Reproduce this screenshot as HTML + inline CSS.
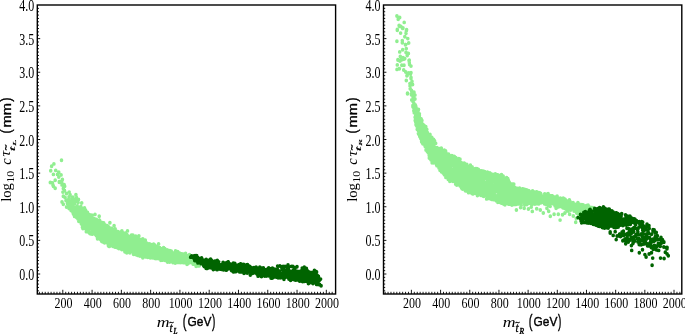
<!DOCTYPE html>
<html><head><meta charset="utf-8"><title>plot</title>
<style>
html,body{margin:0;padding:0;background:#fff}
svg{display:block;filter:blur(0.35px)}
text{fill:#000}
.tk text{font-family:"Liberation Serif",serif;font-size:12px}
.lg{stroke:#90ee90}
.dg{stroke:#006400}
.lg,.dg{fill:none;stroke-width:3.6;stroke-linecap:round}
</style></head><body>
<svg width="685" height="334" viewBox="0 0 685 334">
<rect width="685" height="334" fill="#fff"/>
<g class="lg" transform="scale(1,1.08333)"><path d="M61.5 147.97h0M53.9 151.29h0M51.6 153.51h0M50.7 157.66h0M55.7 157.29h0M58.8 158.95h0M53.4 160.98h0M57.5 160.98h0M61.1 161.45h0M58.8 163.48h0M62.4 165.69h0M55.2 166.43h0M59.3 167.63h0M50.3 168.46h0M52.5 168.92h0M62.0 169.29h0M64.2 170.58h0M53.0 170.95h0M59.3 168.18h0M62.0 166.71h0M53.4 171.97h0M55.2 173.82h0M62.0 170.68h0M64.7 171.97h0M63.3 174.00h0M62.9 177.32h0M69.2 177.32h0M63.3 181.11h0M65.1 182.31h0M66.5 178.62h0M70.1 179.82h0M75.9 179.82h0M72.8 181.94h0M76.3 181.94h0M75.0 184.43h0M62.0 186.46h0M63.3 188.58h0M68.3 184.43h0M71.0 185.26h0M81.7 187.29h0M78.1 186.92h0M67.4 187.75h0M71.0 188.58h0M74.5 187.75h0M66.5 191.08h0M70.1 191.45h0M73.6 191.08h0M77.2 190.15h0M80.8 190.62h0M84.4 192.74h0M64.5 175.85h0M66.0 185.08h0M73.5 186.28h0M78.5 184.15h0M69.0 181.85h0M95.0 197.91h0M99.2 199.57h0M109.9 205.66h0M114.1 208.34h0M121.9 213.14h0M127.5 213.14h0M138.9 217.75h0M158.6 225.14h0M145.3 221.72h0M67.5 186.00h0M69.5 187.20h0M72.0 183.69h0M73.0 189.05h0M68.8 189.69h0M76.0 185.54h0M100.2 214.99h0M133.3 220.94h0M151.1 231.28h0M114.3 223.40h0M146.5 225.58h0M191.5 240.19h0M128.4 220.62h0M123.2 219.31h0M144.6 228.09h0M113.5 219.05h0M167.7 240.48h0M92.8 210.49h0M90.3 209.55h0M156.0 229.93h0M110.5 212.42h0M145.2 226.75h0M128.1 225.04h0M167.6 235.32h0M180.6 234.32h0M142.4 225.62h0M175.5 234.67h0M181.2 239.58h0M126.9 226.64h0M115.7 220.18h0M95.0 204.13h0M110.2 215.67h0M83.9 197.86h0M83.8 195.01h0M169.2 235.89h0M101.7 219.99h0M165.5 239.78h0M83.2 200.67h0M190.7 236.84h0M167.0 232.16h0M116.5 213.60h0M139.0 230.18h0M160.8 235.87h0M82.0 200.26h0M184.1 240.87h0M99.1 212.19h0M82.8 200.23h0M101.7 219.48h0M104.0 218.89h0M84.6 196.76h0M196.1 242.26h0M97.8 216.09h0M160.1 237.21h0M156.7 230.95h0M142.6 234.68h0M121.4 228.56h0M139.5 232.79h0M141.0 221.20h0M126.4 225.20h0M92.7 215.49h0M139.7 234.87h0M128.1 224.62h0M128.2 232.03h0M178.2 233.67h0M125.7 229.70h0M140.3 227.05h0M113.2 215.12h0M115.7 222.48h0M191.9 239.37h0M115.9 220.52h0M93.2 207.93h0M160.0 232.86h0M116.3 225.54h0M100.7 216.72h0M135.9 225.20h0M104.8 207.35h0M84.6 208.20h0M148.6 232.71h0M100.5 214.58h0M124.9 225.68h0M84.5 198.13h0M89.5 206.11h0M90.8 199.61h0M188.7 239.61h0M192.6 239.21h0M147.5 227.12h0M110.9 218.71h0M84.0 200.67h0M106.7 215.12h0M94.6 205.24h0M107.9 225.08h0M150.6 231.21h0M95.6 205.44h0M102.6 221.97h0M181.0 238.16h0M142.1 231.86h0M144.5 234.63h0M138.6 230.84h0M115.8 220.29h0M178.8 240.54h0M135.8 231.49h0M126.8 226.89h0M84.9 206.17h0M113.7 222.77h0M100.4 212.76h0M183.8 240.96h0M124.4 223.63h0M127.2 221.52h0M170.1 239.52h0M117.6 214.31h0M155.4 234.61h0M97.0 203.38h0M103.3 207.24h0M109.3 225.49h0M158.7 232.09h0M112.6 224.02h0M135.5 223.57h0M75.4 197.64h0M158.2 235.15h0M181.4 239.79h0M79.3 193.07h0M192.3 242.65h0M83.1 198.88h0M149.0 230.63h0M123.2 226.81h0M117.0 218.21h0M110.7 223.64h0M196.2 239.38h0M181.5 238.76h0M84.3 200.91h0M119.3 216.00h0M87.9 202.26h0M141.1 232.64h0M151.1 230.02h0M91.1 210.75h0M106.8 223.62h0M110.0 221.83h0M77.5 197.08h0M105.8 220.71h0M164.9 237.60h0M101.7 208.38h0M144.7 225.03h0M92.1 210.43h0M134.2 232.29h0M117.4 222.53h0M111.2 212.96h0M120.5 225.71h0M101.1 221.08h0M77.8 201.90h0M184.7 241.97h0M180.7 236.77h0M198.7 240.63h0M155.4 230.81h0M133.2 230.98h0M120.8 220.57h0M127.4 219.25h0M177.2 237.11h0M112.0 224.55h0M154.6 234.25h0M101.5 218.48h0M142.7 224.44h0M109.1 217.36h0M136.7 228.69h0M150.9 227.79h0M117.3 227.74h0M112.2 223.91h0M127.3 221.45h0M95.6 211.73h0M84.3 206.60h0M115.5 224.79h0M153.8 227.51h0M172.4 235.43h0M115.3 213.69h0M166.7 238.07h0M133.8 234.35h0M80.6 196.24h0M112.7 212.91h0M131.1 219.96h0M127.0 227.67h0M92.3 204.17h0M108.3 212.02h0M129.9 227.68h0M152.0 230.36h0M80.5 200.47h0M150.3 238.00h0M119.6 225.56h0M128.2 229.94h0M91.8 201.54h0M180.0 235.80h0M153.4 237.67h0M172.1 237.91h0M168.0 236.22h0M85.2 199.58h0M117.3 215.99h0M193.0 242.26h0M185.1 237.49h0M87.8 202.40h0M116.4 224.54h0M127.1 229.72h0M166.0 237.17h0M153.4 231.63h0M151.3 236.58h0M101.9 215.92h0M112.0 226.52h0M136.8 228.24h0M163.7 230.19h0M123.9 218.97h0M101.6 210.51h0M169.9 232.27h0M121.6 226.22h0M87.8 206.76h0M115.9 218.12h0M120.7 223.29h0M183.6 242.44h0M186.1 235.99h0M177.8 234.31h0M95.4 215.70h0M186.1 239.28h0M111.7 222.32h0M163.5 234.85h0M103.3 219.19h0M124.6 230.07h0M110.5 215.96h0M173.0 233.49h0M136.9 223.83h0M197.6 243.63h0M160.8 235.97h0M170.4 238.49h0M113.5 213.07h0M97.2 208.75h0M123.0 221.75h0M104.2 210.34h0M101.9 219.05h0M136.3 231.34h0M186.2 235.97h0M127.8 231.83h0M105.7 216.21h0M105.0 217.37h0M106.6 220.96h0M106.9 222.69h0M166.3 231.26h0M85.7 204.81h0M172.4 240.64h0M115.1 215.00h0M128.7 228.78h0M142.5 229.16h0M82.7 194.12h0M97.2 217.60h0M150.4 234.32h0M76.5 197.86h0M107.9 218.54h0M94.3 202.01h0M90.7 208.30h0M94.3 213.99h0M78.0 200.40h0M154.1 230.85h0M102.2 215.16h0M81.7 196.37h0M152.8 231.29h0M162.5 235.84h0M75.3 197.20h0M161.3 231.73h0M133.9 225.24h0M161.5 230.98h0M85.4 203.87h0M142.6 232.43h0M168.8 240.39h0M159.4 236.70h0M90.8 201.38h0M154.9 229.42h0M194.9 238.12h0M142.2 228.02h0M81.1 200.97h0M157.4 229.17h0M154.4 231.46h0M76.1 195.16h0M122.6 225.48h0M152.6 229.23h0M192.3 241.46h0M158.7 233.38h0M189.2 239.80h0M84.5 205.32h0M180.3 239.49h0M156.9 231.62h0M92.3 210.00h0M118.1 216.09h0M158.6 236.71h0M86.8 203.56h0M181.3 239.91h0M181.7 241.04h0M117.0 215.14h0M100.9 218.86h0M120.6 221.47h0M128.9 228.98h0M172.0 234.80h0M141.7 227.27h0M188.1 238.94h0M167.0 239.47h0M113.6 217.44h0M96.0 214.03h0M150.4 235.13h0M147.8 227.01h0M125.3 227.37h0M184.4 238.73h0M154.8 228.67h0M135.2 222.74h0M182.5 237.49h0M194.6 239.11h0M167.6 230.88h0M104.5 218.72h0M127.3 221.49h0M116.7 213.77h0M78.9 193.24h0M149.4 235.06h0M120.9 218.46h0M146.6 233.46h0M130.0 224.25h0M109.1 214.67h0M125.7 220.66h0M129.5 229.37h0M110.5 210.87h0M145.4 236.95h0M194.4 240.54h0M111.8 222.71h0M75.9 196.66h0M82.7 207.10h0M76.6 196.65h0M153.3 227.49h0M160.5 230.09h0M101.0 214.23h0M139.3 229.54h0M129.2 223.80h0M115.7 216.31h0M94.8 214.24h0M92.7 204.07h0M131.3 227.92h0M131.5 230.41h0M90.6 208.25h0M178.0 242.06h0M147.2 235.31h0M79.6 191.77h0M125.5 229.70h0M117.4 226.83h0M125.5 225.21h0M79.1 202.90h0M140.8 224.67h0M143.5 227.72h0M189.2 242.53h0M93.5 212.53h0M108.7 211.45h0M140.5 225.35h0M73.3 195.33h0M119.6 220.01h0M157.4 231.06h0M93.1 211.06h0M180.9 239.58h0M109.7 222.63h0M142.0 230.31h0M137.0 225.06h0M98.4 211.87h0M150.9 230.36h0M89.4 207.26h0M118.1 218.81h0M125.2 216.39h0M122.6 229.08h0M125.7 217.69h0M136.2 227.50h0M102.6 223.21h0M129.9 225.15h0M165.9 236.03h0M117.2 228.53h0M112.7 224.11h0M141.9 230.65h0M147.1 224.65h0M122.6 227.45h0M98.7 204.68h0M110.2 210.65h0M102.9 208.70h0M93.8 203.92h0M133.0 225.04h0M82.0 205.37h0M185.4 235.73h0M194.2 238.84h0M139.9 221.40h0M152.0 232.36h0M87.9 200.46h0M134.0 222.78h0M106.4 213.76h0M186.6 240.97h0M99.3 220.20h0M108.9 215.18h0M130.7 230.57h0M162.9 232.88h0M110.5 226.33h0M134.9 225.12h0M172.2 234.10h0M69.9 192.66h0M134.9 218.72h0M137.8 229.37h0M193.2 243.81h0M75.3 195.59h0M165.4 234.87h0M182.9 241.79h0M122.1 217.34h0M133.8 232.67h0M186.7 237.00h0M118.6 229.21h0M89.6 209.73h0M140.1 224.06h0M140.2 223.09h0M145.5 236.25h0M137.3 220.19h0M111.9 224.52h0M194.7 240.78h0M101.4 218.55h0M87.8 212.91h0M83.1 208.54h0M119.7 219.85h0M110.4 217.52h0M122.2 216.29h0M157.5 228.81h0M138.2 223.74h0M167.9 236.78h0M140.5 227.61h0M173.6 235.22h0M172.7 237.14h0M143.0 233.77h0M158.6 236.21h0M106.3 213.56h0M83.8 208.72h0M84.2 204.68h0M112.3 219.46h0M124.8 224.97h0M105.1 223.53h0M160.3 235.17h0M133.1 232.70h0M82.0 206.44h0M135.0 222.91h0M81.0 194.11h0M151.1 226.88h0M78.4 194.44h0M107.9 215.59h0M107.7 208.97h0M130.8 228.04h0M126.4 231.94h0M169.0 240.64h0M131.9 223.73h0M124.3 229.76h0M133.2 228.81h0M186.7 242.22h0M74.4 192.60h0M105.2 210.05h0M123.3 227.45h0M128.7 218.22h0M107.6 213.96h0M95.7 209.45h0M170.4 237.09h0M152.3 235.93h0M94.3 210.76h0M114.3 226.49h0M90.6 205.59h0M88.3 201.44h0M137.9 229.54h0M143.7 234.93h0M107.9 218.92h0M73.7 194.02h0M111.9 212.70h0M101.6 210.17h0M88.1 208.94h0M153.2 229.35h0M162.7 240.00h0M92.2 205.78h0M87.0 209.43h0M99.5 218.58h0M138.0 222.71h0M97.4 203.74h0M81.1 202.65h0M140.0 236.38h0M147.3 231.88h0M127.3 223.94h0M139.3 224.79h0M81.6 199.36h0M126.8 228.32h0M186.5 241.85h0M97.7 206.89h0M125.8 218.49h0M94.6 206.79h0M84.7 207.16h0M127.0 218.66h0M138.7 233.92h0M137.6 224.85h0M156.9 228.41h0M108.9 222.00h0M158.0 230.17h0M184.2 235.03h0M110.1 221.79h0M130.5 220.66h0M114.5 216.64h0M138.4 228.63h0M177.8 241.87h0M114.2 212.98h0M83.7 202.10h0M97.6 205.52h0M115.7 227.99h0M126.2 227.55h0M126.9 225.90h0M111.0 217.24h0M155.6 236.61h0M103.7 212.79h0M181.5 237.31h0M123.5 222.19h0M100.7 213.73h0M187.8 240.53h0M179.2 235.53h0M152.0 235.70h0M175.6 236.98h0M82.8 204.57h0M171.0 232.75h0M69.1 192.46h0M145.6 228.12h0M189.1 242.33h0M98.0 209.00h0M183.7 234.62h0M92.7 213.76h0M116.7 220.41h0M107.0 208.40h0M90.9 205.08h0M85.6 207.86h0M139.5 226.02h0M88.1 204.98h0M180.3 239.08h0M104.6 219.71h0M120.9 227.67h0M108.1 209.01h0M137.0 228.20h0M113.2 222.80h0M160.9 239.14h0M164.7 235.90h0M169.8 237.61h0M130.2 219.95h0M112.1 217.12h0M194.1 238.86h0M178.7 234.33h0M160.2 231.49h0M154.9 236.84h0M170.5 238.88h0M103.1 210.07h0M169.4 234.95h0M93.9 214.60h0M178.7 238.41h0M120.4 221.87h0M135.4 224.30h0M92.3 211.49h0M197.1 238.77h0M101.5 214.40h0M187.2 236.02h0M118.2 223.83h0M123.1 219.43h0M135.6 224.92h0M75.5 193.81h0M78.4 193.19h0M152.2 230.44h0M165.2 233.07h0M171.1 239.44h0M100.1 208.58h0M97.6 214.79h0M152.2 230.57h0M115.4 225.52h0M169.0 237.70h0M124.8 226.38h0M78.7 194.51h0M77.0 200.01h0M106.6 215.16h0M155.2 228.77h0M123.6 228.93h0M111.7 210.91h0M94.3 204.92h0M159.7 228.68h0M113.3 227.35h0M84.0 194.31h0M120.5 219.10h0M87.7 199.74h0M151.2 232.99h0M180.1 240.74h0M104.6 208.91h0M178.0 239.76h0M118.1 222.59h0M195.7 243.93h0M96.3 217.47h0M138.3 231.05h0M116.6 213.58h0M142.3 231.03h0M149.0 228.36h0M183.5 238.41h0M137.0 226.39h0M151.6 237.79h0M122.7 217.23h0M137.5 224.83h0M175.7 241.25h0M152.9 237.87h0M110.9 218.72h0M90.1 206.77h0M182.8 236.16h0M164.2 231.14h0M144.7 235.77h0M110.5 225.73h0M100.7 209.00h0M94.0 213.58h0M128.1 227.76h0M87.8 208.09h0M179.5 235.60h0M93.2 202.83h0M195.9 242.84h0M182.6 240.48h0M148.5 228.05h0M82.2 203.29h0M173.7 235.09h0M150.4 228.64h0M169.0 232.13h0M188.4 240.18h0M165.6 239.26h0M133.5 234.59h0M99.9 207.05h0M122.0 217.78h0M136.0 230.89h0M97.6 208.80h0M142.9 229.21h0M85.0 198.19h0M136.1 235.03h0M98.7 218.84h0M86.6 197.97h0M192.3 238.91h0M198.0 242.20h0M128.4 229.10h0M81.7 198.97h0M112.7 219.31h0M180.9 237.15h0M191.2 242.20h0M129.9 233.24h0M110.1 217.27h0M152.0 235.49h0M77.7 197.60h0M152.0 230.75h0M76.3 192.23h0M73.4 195.90h0M141.9 224.23h0M165.1 235.68h0M82.4 206.02h0M88.3 198.37h0M104.8 215.54h0M104.5 217.44h0M94.0 206.07h0M96.8 212.92h0M115.3 227.70h0M170.8 237.45h0M116.1 226.08h0M165.3 240.35h0M115.9 218.15h0M99.2 204.59h0M116.9 216.93h0M83.5 193.77h0M114.8 212.66h0M141.4 234.80h0M132.4 227.19h0M195.8 243.31h0M172.2 238.93h0M74.5 197.43h0M177.2 240.47h0M135.4 227.58h0M78.1 199.05h0M186.7 240.90h0M144.7 225.17h0M145.8 226.77h0M117.2 218.83h0M114.9 224.99h0M167.0 234.17h0M154.2 228.33h0M119.8 225.31h0M147.0 232.40h0M110.7 214.90h0M155.8 230.83h0M99.3 217.92h0M137.7 224.08h0M167.6 233.28h0M138.0 226.61h0M133.1 225.20h0M160.5 231.01h0M113.7 223.38h0M141.1 229.98h0M118.1 217.13h0M198.6 239.51h0M81.3 200.78h0M137.3 230.14h0M95.4 209.03h0M100.4 211.87h0M102.6 215.28h0M158.7 228.99h0M73.3 193.31h0M75.8 199.53h0M89.0 210.31h0M121.5 227.91h0M145.0 236.86h0M133.7 218.71h0M137.3 227.29h0M186.1 242.51h0M130.5 231.88h0M142.0 221.94h0M170.5 232.30h0M171.5 236.32h0M106.0 217.26h0M178.7 239.12h0M167.1 230.69h0M143.2 226.68h0M137.2 225.07h0M155.8 233.03h0M112.8 216.47h0M118.0 221.63h0M106.9 217.35h0M180.8 236.78h0M155.8 230.79h0M133.9 218.97h0M122.0 216.17h0M94.5 205.61h0M152.7 227.60h0M186.7 242.19h0M147.8 230.00h0M95.7 211.30h0M77.5 197.12h0M147.4 235.40h0M109.6 223.92h0M152.3 230.11h0M112.1 224.13h0M87.9 200.18h0M191.9 240.52h0M94.4 205.31h0M141.3 233.01h0M133.8 225.76h0M149.2 233.51h0M120.5 224.45h0M135.1 226.21h0M96.3 212.21h0M141.9 223.16h0M98.1 217.73h0M113.8 224.36h0M158.4 230.29h0M88.9 207.31h0M141.4 228.07h0M139.9 226.48h0M97.5 214.61h0M120.7 221.49h0M135.7 234.37h0M110.3 226.22h0M114.5 218.39h0M135.0 230.92h0M130.9 225.46h0M117.4 226.42h0M103.2 208.83h0M128.9 221.20h0M156.7 230.47h0M188.4 237.37h0M135.3 221.22h0M103.4 211.83h0M158.0 230.75h0M161.0 229.60h0M133.0 230.71h0M194.7 240.01h0M194.8 241.21h0M90.6 210.60h0M187.9 241.70h0M156.8 237.27h0M141.3 231.84h0M139.5 221.71h0M152.2 227.31h0M140.1 231.22h0M151.0 228.19h0M191.6 242.16h0M131.8 223.39h0M120.1 214.59h0M129.1 226.08h0M124.8 227.30h0M101.9 222.75h0M154.3 233.19h0M152.4 233.50h0M155.3 228.55h0M104.3 217.35h0M75.3 193.18h0M191.3 237.25h0M149.0 229.82h0M125.2 220.89h0M136.8 229.44h0M150.9 229.54h0M96.1 214.54h0M149.3 235.39h0M175.0 233.25h0M135.0 220.40h0M147.6 232.10h0M188.3 241.40h0M175.3 236.31h0M149.5 232.71h0M181.4 234.55h0M152.7 231.53h0M81.5 199.34h0M166.3 233.38h0M152.7 236.84h0M107.5 219.69h0M164.0 239.44h0M141.1 221.46h0M96.0 208.03h0M110.0 217.12h0M88.5 202.66h0M130.8 225.18h0M112.4 224.36h0M117.8 224.36h0M100.7 221.13h0M111.1 222.36h0M149.3 229.28h0M158.4 238.59h0M145.1 227.15h0M83.0 201.86h0M111.0 220.61h0M82.0 195.62h0M106.5 223.34h0M96.4 210.77h0M135.0 228.71h0M153.0 235.19h0M137.9 222.38h0M95.7 214.12h0M88.8 211.92h0M80.2 196.04h0M133.3 225.19h0M108.1 222.33h0M125.1 227.14h0M122.3 221.85h0M76.0 194.03h0M79.4 196.36h0M95.1 213.07h0M153.6 231.83h0M99.1 210.64h0M98.3 204.05h0M98.5 206.55h0M97.2 208.65h0M198.7 239.29h0M99.5 206.51h0M111.4 215.71h0M107.5 218.43h0M196.0 243.85h0M174.8 239.72h0M146.4 227.83h0M106.7 218.69h0M101.8 206.04h0M75.3 193.31h0M81.3 193.60h0M171.6 233.25h0M124.4 227.97h0M140.1 221.34h0M102.0 219.06h0M94.3 201.96h0M196.8 242.34h0M135.9 225.54h0M165.5 231.91h0M133.7 222.03h0M89.9 211.00h0M122.0 228.14h0M172.2 234.15h0M136.8 229.51h0M76.1 198.65h0M132.2 225.03h0M198.2 240.01h0M152.7 237.58h0M75.1 196.41h0M151.4 237.09h0M101.8 207.77h0M111.2 218.56h0M168.4 232.74h0M86.2 207.21h0M147.7 237.53h0M122.2 223.88h0M136.8 233.52h0M134.7 219.08h0M142.3 229.67h0M119.2 221.35h0M138.7 231.34h0M85.5 205.92h0M102.5 220.19h0M145.1 223.29h0M87.8 206.31h0M179.3 233.47h0M144.9 224.22h0M102.3 207.19h0M144.0 223.50h0M117.4 214.16h0M103.7 220.21h0M106.9 220.01h0M91.5 200.04h0M100.9 211.65h0M158.6 231.76h0M173.1 238.40h0M107.9 222.67h0M132.8 228.97h0M182.0 234.48h0M119.5 217.01h0M142.6 235.04h0M92.2 213.86h0M114.1 216.61h0M83.8 196.89h0M136.9 219.30h0M116.5 216.62h0M180.1 238.96h0M164.8 231.11h0M177.4 238.81h0M120.5 229.15h0M101.5 214.56h0M170.2 234.39h0M135.9 227.15h0M192.5 239.84h0M133.3 226.86h0M144.3 228.98h0M144.7 224.21h0M152.2 233.89h0M111.6 214.07h0M81.3 206.43h0M196.1 244.40h0M146.4 224.49h0M165.0 231.12h0M186.3 236.31h0M111.1 215.84h0M78.8 204.18h0M112.4 221.25h0M153.7 232.51h0M92.0 199.96h0M121.8 230.28h0M130.1 220.92h0M121.8 218.26h0M102.6 209.09h0M160.6 237.80h0M119.6 228.40h0M116.7 226.30h0M114.3 214.41h0M150.2 228.19h0M87.3 198.26h0M89.0 201.16h0M143.5 231.20h0M77.1 198.32h0M96.4 202.57h0M148.9 229.13h0M158.0 232.31h0M83.1 197.50h0M87.9 198.67h0M100.1 217.21h0M149.5 228.69h0M128.1 232.13h0M118.3 219.47h0M142.5 228.39h0M171.3 231.90h0M177.5 233.16h0M176.9 235.51h0M120.8 227.52h0M115.0 225.03h0M152.0 226.61h0M173.8 235.05h0M122.5 227.35h0M109.1 216.81h0M178.6 240.32h0M186.9 238.76h0M124.4 218.19h0M105.2 221.68h0M107.6 211.77h0M118.2 220.61h0M156.4 237.16h0M85.9 204.29h0M107.7 218.75h0M195.9 243.29h0M107.4 209.08h0M126.7 227.60h0M188.5 239.17h0M145.5 233.60h0M156.0 238.73h0M78.6 191.97h0M83.2 203.11h0M180.2 242.29h0M77.0 199.36h0M174.8 239.92h0M154.9 228.68h0M117.9 213.87h0M126.0 228.69h0M150.4 234.83h0M134.3 221.91h0M121.2 221.58h0M167.8 239.58h0M138.0 220.05h0M143.5 227.92h0M91.1 204.62h0M98.1 219.21h0M110.9 217.09h0M161.9 235.74h0M116.5 218.50h0M98.8 216.25h0M139.2 229.48h0M84.3 204.86h0M132.9 232.08h0M132.2 231.39h0M160.1 233.82h0M115.2 228.15h0M84.6 199.44h0M104.0 209.99h0M104.0 213.41h0M100.7 206.12h0M138.9 225.88h0M126.9 216.68h0M85.6 194.12h0M110.5 222.20h0M143.6 231.15h0M190.3 241.99h0M104.8 221.76h0M101.8 213.73h0M153.3 232.27h0M150.6 226.03h0M186.8 237.58h0M167.1 233.12h0M131.3 223.04h0M114.3 219.89h0M140.4 230.89h0M176.2 242.30h0M103.7 205.78h0M176.4 236.42h0M100.2 217.76h0M161.1 235.46h0M130.7 220.92h0M111.5 219.47h0M90.7 204.82h0M80.6 204.62h0M147.4 237.23h0M94.4 204.86h0M108.4 226.92h0M166.1 233.50h0M166.5 238.45h0M100.3 212.36h0M175.2 242.80h0M117.9 226.65h0M157.8 236.06h0M174.7 235.80h0M191.6 240.29h0M164.8 234.17h0M142.8 220.52h0M143.4 232.71h0M185.1 241.27h0M196.1 245.88h0M109.9 222.01h0M187.5 242.20h0M87.5 196.10h0M158.4 229.68h0M193.9 242.71h0M118.3 219.58h0M112.9 227.31h0M76.4 196.13h0M142.1 221.97h0M141.9 233.29h0M160.5 237.97h0M140.5 221.84h0M73.0 196.12h0M141.5 232.61h0M177.8 236.42h0M134.2 221.72h0M188.9 240.17h0M73.4 197.46h0M111.2 212.43h0M168.4 238.80h0M196.6 245.34h0M135.1 227.71h0M187.5 243.46h0M94.2 209.00h0M154.2 229.64h0M151.2 225.92h0M152.9 234.16h0M132.2 221.23h0M74.7 191.51h0M90.4 211.27h0M186.2 237.47h0M90.0 198.31h0M115.5 226.16h0M105.5 217.66h0M102.4 213.19h0M174.3 238.36h0M177.4 232.74h0M82.4 209.76h0M83.9 202.54h0M173.9 233.46h0M98.2 206.97h0M159.2 230.70h0M92.2 211.73h0M147.6 237.13h0M122.6 220.40h0M154.3 235.01h0M190.7 238.86h0M161.7 235.64h0M117.9 217.87h0M143.6 230.21h0M131.5 226.54h0M96.8 207.47h0M127.4 229.34h0M95.1 205.03h0M195.7 241.86h0M104.6 224.10h0M146.0 230.99h0M173.9 238.50h0M85.4 210.93h0M119.8 229.28h0M148.1 236.08h0M106.0 220.12h0M135.8 234.96h0M165.3 233.58h0M182.2 241.75h0M101.5 222.55h0M108.1 210.16h0M132.9 217.17h0M78.5 197.24h0M97.5 214.29h0M140.0 232.14h0M163.6 228.71h0M142.8 238.01h0M106.5 216.64h0M166.9 233.21h0M121.4 216.74h0M133.2 231.22h0M110.6 216.43h0M87.6 204.18h0M172.9 242.40h0M108.7 210.21h0M92.3 216.13h0M137.8 235.76h0M146.2 234.07h0M75.8 198.36h0M99.0 207.25h0M162.0 231.59h0M97.7 215.07h0M182.2 240.16h0M79.7 203.10h0M95.4 216.18h0M103.4 211.63h0M103.4 215.27h0M197.5 239.16h0M122.5 219.75h0M192.2 241.89h0M156.7 227.88h0M169.8 236.06h0M181.6 242.11h0M191.7 239.24h0M185.6 234.03h0M153.4 227.66h0M168.9 240.09h0M112.1 219.99h0M91.5 211.32h0M127.3 222.61h0M101.6 221.96h0M125.2 227.21h0M129.0 230.70h0M103.9 208.12h0M81.4 206.72h0M129.8 221.39h0M80.2 202.06h0M83.2 206.41h0M71.1 194.35h0M123.2 222.40h0M122.9 214.82h0M111.1 213.47h0M86.6 202.52h0M92.7 213.91h0M184.2 239.06h0M80.8 194.53h0M181.0 236.44h0M119.2 220.41h0M139.4 222.36h0M82.9 210.97h0M188.1 241.84h0M117.7 223.02h0M154.0 229.16h0M81.4 191.98h0M129.4 231.47h0M89.4 211.39h0M161.5 237.41h0M164.0 234.36h0M146.3 228.49h0M190.0 237.98h0M84.5 191.92h0M173.4 237.01h0M86.5 212.03h0M163.4 234.19h0M105.0 215.08h0M199.3 245.42h0M175.5 231.64h0M104.9 213.46h0M75.8 197.16h0M92.6 210.34h0M177.7 237.46h0M148.6 226.60h0M155.1 238.52h0M110.1 225.21h0M132.8 225.72h0M88.0 213.23h0M166.0 232.78h0M173.6 241.93h0M77.0 194.60h0M124.9 232.44h0M93.2 214.71h0M170.5 238.32h0M140.9 225.08h0M153.6 225.50h0M167.5 241.82h0M88.7 204.48h0M173.6 241.69h0M160.0 233.72h0M100.6 205.31h0M197.6 239.92h0M154.7 234.92h0M170.9 240.04h0M129.5 228.78h0M178.6 240.88h0M118.3 214.82h0M73.7 193.89h0M90.0 203.05h0M165.8 238.53h0M109.5 224.41h0M86.9 197.95h0M114.4 219.93h0M115.6 223.42h0M164.8 229.59h0M71.4 191.41h0M148.6 233.35h0M131.7 230.15h0M111.8 212.42h0M91.8 198.67h0M83.0 196.19h0M179.3 236.19h0M143.9 225.52h0M187.0 243.96h0M133.0 231.62h0M118.6 227.74h0M113.0 222.99h0M133.7 234.74h0M121.6 215.75h0M81.1 194.27h0M80.4 196.81h0M154.2 230.42h0M149.5 225.22h0M164.1 235.30h0M90.6 209.05h0M153.3 235.29h0M177.7 232.26h0M154.6 229.28h0M132.5 229.17h0M171.8 240.56h0M179.1 236.78h0M134.8 220.85h0M112.1 212.65h0M125.9 224.09h0M152.4 234.02h0M152.5 230.52h0M150.0 237.39h0M160.9 233.64h0M92.7 205.77h0M189.5 235.08h0M172.3 237.71h0M105.2 211.67h0M152.3 229.65h0M86.0 207.53h0M84.1 199.30h0M197.0 242.26h0M76.1 195.17h0M103.6 206.26h0M99.8 206.60h0M98.9 207.40h0M118.9 218.00h0M192.7 242.18h0M93.2 215.51h0M147.8 228.58h0M100.8 214.82h0M152.9 234.48h0M174.3 240.56h0M88.3 197.71h0M89.9 215.54h0M112.2 211.79h0M109.3 227.43h0M76.7 200.87h0M98.9 214.46h0M99.3 216.78h0M112.6 226.13h0M178.8 237.40h0M84.5 201.17h0M106.3 216.94h0M115.2 211.27h0M143.8 234.47h0M167.8 239.18h0M113.7 215.68h0M106.1 219.55h0M169.8 231.36h0M94.6 205.21h0M91.2 209.45h0M156.2 230.84h0M129.6 226.30h0M165.9 235.43h0M113.6 214.55h0M111.6 221.66h0M83.0 194.04h0M133.8 226.61h0M136.9 228.24h0M157.1 227.32h0M74.9 192.60h0M97.4 219.27h0M98.3 218.03h0M137.2 234.51h0M123.6 226.92h0M125.5 218.83h0M86.3 213.83h0M88.1 212.70h0M116.2 219.88h0M85.4 205.52h0M97.3 207.93h0M177.7 242.23h0M100.6 216.84h0M95.7 210.65h0M150.4 230.92h0M98.2 205.88h0M93.8 204.11h0M131.4 217.04h0M80.0 194.11h0M99.9 203.98h0M118.9 229.40h0M160.9 240.25h0M102.3 205.54h0M133.2 231.34h0M148.9 233.09h0M143.6 234.42h0M195.0 239.45h0M96.8 213.80h0M181.2 237.67h0M138.1 230.38h0M80.9 191.50h0M156.3 229.27h0M90.7 215.77h0M177.5 240.76h0M74.6 199.74h0M132.5 229.05h0M110.4 225.29h0M135.9 224.46h0M90.1 208.47h0M106.3 212.15h0M89.0 214.38h0M128.7 219.97h0M74.4 199.26h0M112.4 219.99h0M108.6 226.57h0M142.1 234.29h0M145.5 235.29h0M112.2 223.57h0M171.7 236.47h0M76.3 195.95h0M83.1 200.31h0M138.6 228.47h0M74.1 196.41h0M146.7 229.32h0M187.3 238.91h0M135.2 228.57h0M74.6 194.38h0M167.4 240.55h0M173.1 241.23h0M180.4 238.34h0M167.3 241.40h0M114.6 211.93h0M151.1 232.08h0M84.0 204.20h0M86.7 198.56h0M140.0 225.84h0M108.9 227.09h0M135.7 217.99h0M123.3 230.20h0M135.4 225.92h0M81.2 200.81h0M108.6 223.76h0M157.1 235.47h0M97.5 220.43h0M99.3 218.80h0M126.8 233.28h0M128.2 226.52h0M178.2 236.57h0M125.4 215.31h0M72.6 191.60h0M86.5 203.47h0M154.5 226.09h0M154.7 229.46h0M99.4 203.28h0M158.1 230.65h0M91.9 208.90h0M160.9 235.74h0M107.9 219.49h0M173.0 233.43h0M195.7 243.35h0M138.6 218.63h0M169.6 241.91h0M160.1 233.45h0M147.1 227.64h0M163.6 231.29h0M185.1 237.41h0M143.1 236.75h0M104.1 214.05h0M192.3 240.82h0M113.0 225.95h0"/></g>
<g class="dg" transform="scale(1,1.08333)"><path d="M219.9 248.39h0M314.2 255.26h0M274.3 255.11h0M209.1 242.57h0M203.4 244.26h0M294.8 254.15h0M271.6 254.95h0M209.7 246.87h0M203.7 245.25h0M292.6 256.77h0M220.4 248.35h0M217.4 244.36h0M249.0 247.15h0M318.9 262.40h0M274.7 248.44h0M207.8 246.44h0M294.6 258.23h0M209.5 242.39h0M230.0 246.29h0M307.1 251.36h0M282.8 252.30h0M201.6 241.84h0M246.0 247.64h0M259.3 253.22h0M306.5 254.95h0M270.6 254.17h0M287.8 250.41h0M256.5 252.25h0M286.0 255.67h0M286.1 253.06h0M302.4 250.76h0M290.7 254.17h0M286.9 249.07h0M262.1 247.64h0M240.9 247.05h0M310.5 259.90h0M299.7 251.92h0M296.1 253.54h0M248.1 249.58h0M193.9 238.20h0M278.0 249.94h0M264.5 252.37h0M299.0 258.18h0M256.5 251.98h0M269.0 248.98h0M314.8 258.20h0M301.1 257.05h0M293.4 256.96h0M275.6 253.96h0M243.7 249.55h0M231.6 248.71h0M287.9 252.75h0M305.8 251.98h0M301.5 251.27h0M284.4 255.17h0M315.0 260.57h0M246.0 250.57h0M267.0 253.92h0M317.6 254.63h0M270.1 252.05h0M226.7 245.67h0M239.4 250.83h0M194.0 236.24h0M313.6 260.42h0M313.6 256.35h0M295.1 255.58h0M192.1 236.63h0M245.4 246.00h0M239.0 245.57h0M236.4 245.11h0M282.9 255.84h0M204.8 245.69h0M230.1 246.49h0M227.5 246.84h0M237.9 249.18h0M223.5 246.23h0M219.6 247.04h0M206.8 241.85h0M295.2 255.33h0M279.1 255.99h0M251.6 250.27h0M192.7 236.62h0M222.4 247.90h0M269.1 250.71h0M283.5 249.92h0M299.3 254.15h0M297.9 257.80h0M313.0 259.03h0M315.4 255.81h0M239.0 244.39h0M204.1 242.70h0M205.9 246.55h0M292.9 251.42h0M215.9 241.35h0M311.7 260.86h0M258.2 250.71h0M225.8 246.83h0M307.7 252.73h0M271.2 248.14h0M290.8 253.84h0M317.2 261.27h0M246.0 245.67h0M260.0 251.72h0M300.0 259.48h0M201.2 241.29h0M295.3 253.99h0M291.5 256.17h0M254.7 248.21h0M297.4 255.68h0M293.3 253.35h0M265.1 252.56h0M232.0 249.96h0M316.9 254.77h0M203.5 243.13h0M260.8 250.31h0M260.5 254.17h0M266.8 254.53h0M317.7 256.51h0M308.6 252.71h0M297.6 250.82h0M300.1 255.43h0M228.4 246.42h0M205.5 246.02h0M318.5 255.14h0M194.0 238.24h0M283.4 249.94h0M266.1 254.84h0M269.3 249.69h0M240.9 250.72h0M278.4 254.09h0M254.0 249.97h0M213.4 247.00h0M233.2 250.12h0M273.3 255.09h0M277.8 254.91h0M239.9 248.97h0M205.2 241.08h0M275.0 255.58h0M241.2 250.07h0M236.8 249.35h0M300.0 256.47h0M314.2 254.80h0M305.6 255.64h0M284.9 254.02h0M295.1 252.48h0M233.9 244.59h0M206.2 239.49h0M286.1 250.25h0M301.2 253.43h0M207.4 242.62h0M203.7 240.74h0M231.7 246.96h0M235.3 244.60h0M294.0 257.54h0M209.1 245.60h0M296.0 258.42h0M292.6 252.89h0M294.9 255.85h0M277.7 252.65h0M292.3 254.13h0M297.6 252.20h0M255.2 251.55h0M264.2 251.01h0M237.7 245.68h0M301.3 258.09h0M262.7 247.90h0M251.5 252.50h0M244.2 245.63h0M308.1 258.67h0M216.3 243.22h0M219.3 244.36h0M198.6 241.53h0M206.5 241.47h0M307.4 255.99h0M222.9 244.21h0M258.6 247.49h0M227.5 244.01h0M217.5 242.76h0M211.4 240.25h0M272.9 253.66h0M252.6 252.18h0M238.1 245.01h0M263.4 247.40h0M213.2 243.73h0M287.2 251.84h0M283.1 255.95h0M281.2 253.77h0M283.1 249.51h0M197.7 239.53h0M253.0 248.85h0M211.2 242.81h0M261.5 252.87h0M266.5 249.68h0M271.8 255.13h0M240.6 249.55h0M298.8 252.72h0M271.3 249.48h0M287.4 254.39h0M299.8 250.58h0M297.8 252.32h0M196.6 236.77h0M207.0 242.61h0M293.0 249.93h0M246.6 247.29h0M221.3 244.41h0M257.1 252.87h0M237.0 247.98h0M206.2 244.81h0M291.4 256.97h0M255.7 249.75h0M254.8 251.08h0M291.0 251.84h0M226.2 247.82h0M267.7 249.36h0M317.0 254.07h0M310.2 256.30h0M286.7 250.92h0M212.3 241.16h0M297.7 257.34h0M235.3 245.21h0M236.0 245.94h0M296.1 254.69h0M249.7 245.94h0M312.6 254.49h0M219.2 246.08h0M296.9 258.30h0M241.8 249.65h0M295.4 255.26h0M219.3 247.95h0M291.3 252.65h0M301.1 250.04h0M271.7 250.96h0M217.5 245.41h0M233.3 246.53h0M305.3 255.79h0M208.8 243.01h0M218.3 246.47h0M208.0 243.55h0M298.8 255.94h0M289.8 254.59h0M277.0 248.57h0M269.7 253.69h0M319.4 257.16h0M241.0 250.99h0M262.6 253.74h0M299.4 251.60h0M317.8 255.49h0M277.7 254.64h0M264.1 252.22h0M251.0 246.94h0M245.9 249.66h0M284.1 255.10h0M236.8 247.58h0M278.7 250.18h0M243.3 250.19h0M253.1 250.23h0M316.5 254.14h0M206.5 244.68h0M196.2 240.69h0M279.7 253.17h0M217.4 243.59h0M264.3 252.05h0M289.1 255.62h0M222.7 245.44h0M314.4 253.45h0M225.8 245.49h0M210.3 243.04h0M315.5 259.01h0M195.7 238.34h0M252.6 249.57h0M196.3 237.68h0M257.4 251.61h0M256.7 251.34h0M210.8 246.59h0M295.6 258.46h0M305.5 254.47h0M305.2 255.24h0M306.7 250.49h0M298.8 252.94h0M201.6 238.03h0M233.4 249.83h0M273.8 251.30h0M217.1 246.71h0M223.8 248.86h0M272.8 249.86h0M243.7 250.60h0M215.6 241.79h0M282.9 248.66h0M238.4 244.70h0M226.1 242.79h0M227.6 248.25h0M231.4 249.50h0M279.3 250.91h0M204.3 240.44h0M199.5 239.53h0M260.6 251.25h0M270.9 255.69h0M268.0 252.08h0M308.1 259.58h0M259.9 249.40h0M301.9 251.51h0M297.7 252.02h0M258.1 249.15h0M313.1 260.02h0M247.0 249.05h0M299.1 255.10h0M266.6 249.48h0M276.5 252.03h0M255.2 250.30h0M199.9 241.20h0M311.1 256.75h0M302.6 255.93h0M283.0 256.58h0M264.9 253.49h0M314.4 256.86h0M211.4 241.22h0M252.2 250.09h0M278.1 256.44h0M306.1 259.46h0M201.1 243.37h0M292.1 257.23h0M308.4 258.88h0M231.4 244.10h0M319.2 258.82h0M312.6 253.89h0M308.2 251.03h0M313.0 255.01h0M317.0 257.94h0M312.8 260.04h0M227.1 242.96h0M233.7 244.99h0M312.7 252.38h0M304.4 259.60h0M316.3 258.83h0M275.0 248.69h0M264.3 253.53h0M246.5 246.72h0M228.1 246.97h0M264.9 248.85h0M295.0 257.87h0M211.3 240.70h0M251.2 248.03h0M272.0 255.20h0M299.6 259.48h0M216.3 246.24h0M253.4 248.35h0M293.2 249.47h0M277.3 254.46h0M245.0 246.20h0M247.2 251.98h0M300.4 257.93h0M268.0 252.46h0M311.6 258.50h0M192.7 237.36h0M222.4 244.13h0M217.9 244.91h0M234.5 243.77h0M238.7 250.31h0M199.4 240.31h0M214.7 244.92h0M246.6 251.49h0M286.1 252.85h0M244.8 248.24h0M240.0 248.17h0M258.0 250.17h0M291.8 257.91h0M257.0 249.42h0M224.6 245.24h0M297.1 258.38h0M262.1 253.89h0M232.0 246.73h0M273.8 255.64h0M284.6 253.47h0M314.4 252.80h0M285.8 255.37h0M318.1 260.08h0M260.7 253.69h0M303.5 253.60h0M279.5 253.97h0M299.4 257.05h0M259.8 252.34h0M257.7 248.24h0M313.1 257.75h0M317.9 256.45h0M220.8 248.17h0M248.4 250.72h0M280.7 255.45h0M289.2 257.00h0M311.7 251.75h0M288.3 252.36h0M308.3 254.89h0M315.7 258.97h0M246.0 246.81h0M290.2 253.12h0M225.2 248.82h0M193.9 238.49h0M200.4 238.76h0M206.6 245.72h0M263.1 251.01h0M272.8 249.08h0M256.7 250.85h0M300.8 258.77h0M221.9 248.69h0M229.2 243.09h0M249.5 251.05h0M262.8 247.73h0M287.9 255.41h0M243.1 249.20h0M218.5 244.81h0M311.2 259.58h0M318.4 256.01h0M295.6 254.69h0M294.5 255.73h0M199.4 239.25h0M289.4 254.29h0M249.9 247.37h0M223.3 244.96h0M255.3 251.86h0M276.4 255.65h0M234.5 245.74h0M272.5 253.35h0M212.7 242.34h0M230.4 244.85h0M205.5 244.16h0M218.7 241.71h0M307.5 255.08h0M266.9 248.76h0M213.1 246.60h0M204.4 246.02h0M277.3 253.13h0M304.4 250.64h0M263.9 254.21h0M296.3 253.13h0M294.4 256.70h0M284.4 255.83h0M226.3 249.37h0M200.5 241.22h0M292.7 257.58h0M311.1 254.69h0M270.9 253.84h0M211.5 245.99h0M312.1 259.71h0M296.7 254.91h0M245.4 245.47h0M262.5 252.08h0M244.6 246.09h0M196.5 237.46h0M237.6 246.74h0M267.8 253.47h0M308.6 253.15h0M288.1 254.06h0M319.6 262.50h0M246.7 248.36h0M286.5 254.13h0M234.1 246.01h0M236.8 248.19h0M265.5 252.86h0M300.6 254.09h0M275.0 254.55h0M297.7 250.61h0M274.5 250.86h0M207.6 246.75h0M309.1 257.32h0M240.9 244.98h0M312.9 259.71h0M281.9 255.20h0M315.0 256.68h0M309.2 251.28h0M247.8 251.06h0M308.4 251.14h0M212.0 246.54h0M269.3 249.53h0M287.1 249.32h0M213.1 245.21h0M262.6 250.90h0M222.6 243.90h0M279.5 251.31h0M211.4 242.52h0M296.8 256.17h0M221.2 246.61h0M296.1 253.57h0M283.8 249.63h0M283.9 249.89h0M306.2 257.64h0M290.4 250.52h0M282.0 249.04h0M278.8 250.10h0M310.0 255.89h0M277.1 256.03h0M303.5 257.31h0M267.6 251.89h0M310.9 254.02h0M259.8 250.09h0M201.0 241.52h0M303.7 252.76h0M290.8 250.94h0M295.0 257.59h0M262.7 253.18h0M231.0 246.13h0M231.0 246.13h0M312.8 259.85h0M207.1 245.75h0M309.7 260.62h0M201.6 240.67h0M277.6 249.71h0M232.3 244.56h0M286.7 250.65h0M200.3 239.09h0M274.7 254.13h0M239.1 247.75h0M295.8 256.89h0M280.1 256.46h0M223.0 244.93h0M222.5 247.59h0M304.8 251.53h0M243.3 247.69h0M233.1 245.86h0M248.7 245.59h0M306.1 254.74h0M229.5 247.12h0M246.9 249.47h0M211.8 240.78h0M264.7 254.76h0M237.1 244.96h0M260.3 254.05h0M312.0 256.16h0M240.1 243.96h0M249.5 247.73h0M215.0 242.80h0M241.7 246.66h0M212.0 245.01h0M197.9 242.68h0M217.3 247.89h0M250.3 253.80h0M283.8 251.99h0M268.2 254.56h0M247.5 244.31h0M211.4 247.14h0M247.4 248.68h0M194.7 240.55h0M306.3 253.33h0M302.6 259.78h0M307.1 249.72h0M203.6 244.54h0M230.6 248.20h0M284.6 255.64h0M306.2 254.88h0M272.0 248.44h0M295.6 253.50h0M279.7 251.81h0M321.1 263.78h0M289.2 252.97h0M210.8 243.36h0M207.3 245.06h0M289.2 257.17h0M314.2 258.36h0M314.8 253.84h0M259.8 246.67h0M294.1 249.47h0M268.5 252.36h0M228.2 247.96h0M294.9 248.83h0M274.9 250.49h0M242.2 250.76h0M245.9 249.45h0M268.9 252.55h0M226.8 245.91h0M229.3 246.66h0M228.0 241.88h0M200.5 241.04h0M191.7 236.19h0M275.0 253.73h0M265.9 250.02h0M208.5 243.73h0M225.0 244.27h0M202.2 240.71h0M201.9 239.12h0M315.7 260.51h0M271.0 256.71h0M204.6 242.50h0M190.6 237.38h0M241.9 244.73h0M274.4 250.42h0M214.8 241.19h0M272.3 256.62h0M317.9 254.75h0M273.8 252.25h0M199.4 242.39h0M198.6 241.55h0M239.8 248.71h0M227.5 244.69h0M311.9 254.56h0M216.8 244.24h0M262.7 249.64h0M302.7 250.14h0M288.5 248.84h0M309.0 261.25h0M206.6 244.15h0M260.0 248.73h0M312.2 258.40h0M223.4 249.07h0M247.4 250.65h0M277.3 253.58h0M253.9 247.03h0M195.1 236.14h0M215.2 248.11h0M265.7 250.18h0M237.6 248.13h0M213.3 248.72h0M305.0 256.15h0M309.4 252.66h0M320.6 257.62h0M277.4 248.44h0M235.2 244.48h0M241.4 243.87h0M295.4 255.72h0M316.6 262.52h0M316.8 257.75h0M309.4 258.15h0M206.1 247.58h0M228.2 244.67h0M288.0 255.49h0M217.1 248.91h0M259.8 252.72h0M209.1 240.24h0M233.3 242.92h0M308.4 261.66h0M197.0 240.76h0M312.8 251.50h0M287.6 248.17h0M298.9 253.10h0M293.9 257.67h0M240.8 243.72h0M309.0 253.18h0M318.4 259.57h0M210.6 239.16h0M283.2 250.47h0M258.1 254.92h0M310.9 251.74h0M278.7 251.38h0M243.3 245.41h0M307.3 250.34h0M225.0 247.36h0M197.9 242.58h0M290.9 252.90h0M198.0 237.95h0M307.0 257.37h0M279.1 254.04h0M197.8 239.01h0M244.0 252.29h0M224.9 246.27h0M253.5 249.16h0M293.4 256.68h0M261.5 255.33h0M310.4 257.46h0M271.6 252.55h0M300.9 251.72h0M246.5 251.04h0M314.7 252.07h0M295.8 257.30h0M218.2 243.72h0M288.9 257.49h0M289.3 256.21h0M278.5 250.71h0M228.3 241.81h0M287.2 250.45h0M246.5 244.62h0M223.2 246.79h0M228.4 242.38h0M248.5 247.81h0M235.6 250.74h0M287.5 255.29h0M285.6 249.95h0M223.0 247.55h0M293.4 256.67h0M262.3 249.75h0M201.1 241.91h0M300.6 251.04h0M289.7 254.10h0M256.1 246.69h0M284.0 257.86h0M206.6 240.67h0M234.3 249.01h0M266.3 249.11h0M315.8 256.98h0M196.7 235.93h0M293.7 256.22h0M264.8 254.32h0M254.9 249.91h0M302.7 259.60h0M263.6 252.90h0M268.7 247.41h0M286.7 253.90h0M251.8 248.77h0M228.8 246.77h0M272.4 247.50h0M216.0 243.47h0M257.7 253.59h0M284.6 256.29h0M318.9 262.67h0M220.9 245.78h0M298.3 253.93h0M299.9 258.44h0M234.8 243.10h0M312.1 254.96h0M273.2 249.58h0M229.0 247.44h0M307.3 259.77h0M278.1 253.88h0M221.6 246.59h0M233.6 250.97h0M207.4 247.63h0M222.7 244.55h0M202.6 239.86h0M211.7 241.49h0M296.3 251.27h0M290.2 254.08h0M313.0 261.65h0M212.2 247.15h0M240.8 250.98h0M277.3 252.91h0M224.7 245.58h0M243.1 246.58h0M312.9 261.03h0M280.0 256.24h0M281.0 252.84h0M223.1 242.18h0M299.8 258.88h0M217.3 240.37h0M242.7 244.29h0M215.8 241.09h0M202.8 243.80h0M243.7 244.16h0M228.6 246.25h0M243.6 244.76h0M227.7 244.13h0M215.4 246.60h0M290.6 258.69h0M209.9 245.18h0M201.4 242.10h0M284.1 246.66h0M316.6 251.04h0M282.3 246.44h0M288.0 244.66h0M306.4 247.91h0M302.2 247.49h0M288.4 245.85h0M292.8 245.92h0M294.7 247.09h0M288.1 247.00h0M288.7 246.93h0M304.3 246.72h0M285.1 245.90h0M315.8 250.63h0M288.2 247.03h0M279.9 245.54h0M277.6 245.64h0M281.4 246.43h0M303.9 247.52h0M297.0 246.26h0M291.5 245.87h0M314.4 249.61h0M283.0 246.29h0M283.1 245.95h0"/></g>
<g class="lg" transform="scale(1,1.08333)"><path d="M396.9 14.77h0M399.7 16.15h0M398.2 17.82h0M404.2 20.68h0M399.1 23.45h0M400.9 24.46h0M403.0 25.85h0M397.3 27.23h0M406.6 27.51h0M399.4 24.28h0M402.7 26.22h0M397.3 27.88h0M400.6 30.55h0M406.3 28.71h0M406.0 30.65h0M404.8 33.97h0M407.8 35.63h0M396.9 38.12h0M402.3 37.57h0M402.3 39.51h0M408.7 39.78h0M405.7 41.17h0M402.4 39.32h0M408.7 39.60h0M405.4 41.26h0M406.3 44.86h0M402.7 45.97h0M399.7 47.91h0M406.0 48.46h0M408.4 49.29h0M407.2 51.23h0M400.3 52.06h0M403.0 53.17h0M397.9 55.11h0M400.9 55.38h0M409.3 55.66h0M404.2 54.46h0M397.9 55.48h0M400.0 56.31h0M402.4 54.92h0M404.8 54.09h0M409.0 55.75h0M409.3 57.69h0M409.6 59.63h0M411.0 61.02h0M397.3 59.91h0M401.8 60.28h0M404.0 60.28h0M397.0 64.06h0M399.4 63.51h0M403.7 64.62h0M405.7 66.46h0M411.0 67.11h0M408.7 67.38h0M406.9 69.88h0M411.0 71.54h0M407.2 69.69h0M410.5 68.31h0M411.0 72.46h0M406.3 74.31h0M412.0 75.23h0M409.9 77.17h0M412.6 78.00h0M410.2 81.88h0M407.5 86.03h0M414.0 85.20h0M411.4 86.58h0M407.5 86.49h0M414.0 85.57h0M411.4 87.51h0M415.0 87.78h0M413.1 89.72h0M411.7 92.22h0M415.0 91.38h0M414.3 96.37h0M412.9 98.58h0M415.8 98.03h0M415.0 100.25h0M418.5 101.08h0M410.0 79.38h0M411.5 83.54h0M413.0 93.69h0M413.8 95.08h0M516.4 193.85h0M520.6 191.63h0M524.2 192.18h0M528.4 192.92h0M531.3 191.08h0M532.3 195.14h0M536.7 192.74h0M540.3 193.85h0M543.3 196.62h0M546.9 192.18h0M548.7 194.95h0M550.3 199.66h0M554.1 197.72h0M558.3 197.72h0M560.1 203.17h0M562.5 198.28h0M564.9 196.62h0M569.6 197.72h0M573.3 199.38h0M575.7 205.20h0M576.3 201.60h0M432.0 128.57h0M422.0 121.02h0M425.0 121.39h0M426.0 132.15h0M416.7 116.21h0M417.2 119.38h0M424.4 123.26h0M430.2 131.77h0M418.1 116.01h0M432.0 129.62h0M417.7 117.07h0M414.2 103.97h0M421.6 130.85h0M422.9 132.71h0M422.9 124.86h0M421.9 118.75h0M417.4 108.13h0M420.3 118.52h0M413.6 97.44h0M427.0 126.36h0M413.9 99.84h0M425.3 125.80h0M422.1 115.78h0M417.8 113.75h0M417.9 117.03h0M423.3 126.38h0M424.2 116.39h0M412.9 97.40h0M426.8 119.49h0M423.2 124.25h0M414.8 102.47h0M420.0 119.85h0M418.7 108.15h0M423.9 129.89h0M417.0 105.46h0M427.5 129.65h0M419.7 122.58h0M415.5 100.83h0M418.3 110.91h0M424.8 120.81h0M428.3 124.17h0M413.9 99.54h0M418.9 112.01h0M429.4 129.48h0M428.7 126.70h0M425.4 126.42h0M423.3 116.03h0M427.6 129.58h0M422.0 130.59h0M418.4 107.15h0M419.4 124.67h0M420.8 127.82h0M415.3 100.93h0M422.9 129.27h0M425.4 117.11h0M420.2 121.98h0M419.2 105.90h0M416.2 105.93h0M415.3 100.28h0M415.7 108.64h0M421.0 125.48h0M431.8 126.99h0M420.6 117.73h0M415.3 100.28h0M420.2 117.52h0M422.7 118.99h0M416.9 106.90h0M430.4 128.93h0M418.2 120.26h0M433.1 129.66h0M427.9 128.66h0M420.2 111.85h0M424.3 122.73h0M415.7 112.82h0M432.7 130.42h0M426.4 128.99h0M425.5 119.20h0M422.3 126.48h0M419.3 119.30h0M423.6 126.45h0M417.0 110.05h0M415.8 98.16h0M423.9 120.29h0M433.1 129.73h0M416.0 99.28h0M420.9 124.84h0M429.0 125.63h0M423.0 114.83h0M430.4 130.46h0M415.3 96.93h0M413.8 102.25h0M424.4 131.59h0M431.0 130.06h0M417.7 104.77h0M420.3 126.64h0M421.2 110.68h0M419.9 123.81h0M420.9 120.70h0M420.9 122.91h0M423.6 126.73h0M416.7 112.92h0M419.5 124.65h0M420.3 119.93h0M426.1 119.23h0M425.8 123.82h0M422.2 116.42h0M420.0 112.03h0M424.1 116.04h0M426.4 124.64h0M431.9 127.46h0M423.6 123.30h0M421.8 118.29h0M420.7 114.15h0M415.6 99.14h0M425.2 121.83h0M420.5 120.91h0M419.8 125.89h0M420.2 109.96h0M417.1 105.80h0M420.7 127.12h0M429.1 125.21h0M423.2 116.28h0M420.5 124.11h0M418.6 123.66h0M416.4 112.37h0M421.5 127.07h0M421.4 123.44h0M418.5 111.81h0M432.2 128.86h0M419.1 110.47h0M420.8 114.59h0M421.2 109.85h0M429.2 130.44h0M422.1 119.79h0M420.9 115.17h0M430.9 127.08h0M421.4 128.75h0M418.0 116.56h0M416.1 99.50h0M415.2 111.29h0M419.7 115.02h0M423.8 120.08h0M418.3 120.58h0M418.0 103.26h0M414.8 104.20h0M427.4 123.40h0M425.8 118.58h0M422.3 130.00h0M423.9 129.50h0M415.1 108.24h0M431.3 129.79h0M420.9 113.66h0M419.4 105.11h0M425.8 116.89h0M418.6 108.05h0M425.0 129.44h0M421.6 112.41h0M419.4 106.31h0M430.0 124.09h0M432.6 128.29h0M422.6 118.72h0M422.7 120.22h0M424.5 120.09h0M426.0 121.13h0M417.8 117.52h0M425.5 130.94h0M433.4 128.61h0M421.3 122.25h0M419.1 108.29h0M431.6 128.41h0M507.6 167.15h0M487.5 182.38h0M474.1 159.48h0M451.7 153.29h0M570.0 186.00h0M441.6 150.50h0M493.1 183.67h0M435.5 149.31h0M433.0 135.19h0M466.3 156.93h0M497.8 186.64h0M567.4 188.49h0M441.6 150.37h0M576.4 192.19h0M579.4 191.39h0M587.7 199.61h0M526.3 183.20h0M427.8 140.16h0M450.5 148.49h0M433.8 148.75h0M452.3 151.80h0M425.6 134.60h0M499.2 169.79h0M472.6 175.48h0M465.4 165.80h0M570.1 190.67h0M519.5 174.98h0M456.1 161.41h0M447.6 155.62h0M481.9 173.34h0M537.3 184.59h0M572.6 192.53h0M583.7 199.73h0M452.9 167.40h0M495.4 183.43h0M515.6 181.93h0M543.1 182.26h0M524.2 178.09h0M512.6 175.33h0M569.4 189.61h0M582.5 194.77h0M495.9 161.45h0M459.3 152.31h0M562.2 190.73h0M525.7 181.39h0M449.6 144.36h0M473.8 174.45h0M505.9 175.75h0M426.5 132.25h0M552.2 180.96h0M483.4 161.80h0M423.4 126.15h0M447.2 144.43h0M446.7 161.60h0M483.9 167.47h0M443.9 149.74h0M426.9 128.69h0M531.8 185.70h0M461.4 168.98h0M478.4 172.04h0M532.6 180.15h0M522.3 186.17h0M466.7 171.70h0M478.1 162.26h0M540.6 178.54h0M548.9 187.20h0M442.0 147.13h0M498.9 167.74h0M560.3 186.29h0M474.6 156.78h0M491.8 174.68h0M467.8 171.93h0M501.9 172.07h0M487.8 176.56h0M510.9 184.52h0M506.8 168.63h0M493.7 161.83h0M514.1 174.44h0M425.8 132.29h0M489.6 161.61h0M473.8 178.00h0M437.2 138.27h0M513.7 176.75h0M421.0 113.57h0M541.1 179.74h0M481.4 166.21h0M423.5 123.41h0M432.0 142.14h0M439.2 137.26h0M427.2 139.59h0M502.1 186.80h0M575.8 193.56h0M456.9 164.03h0M483.2 161.85h0M455.1 165.04h0M434.7 146.65h0M594.2 195.71h0M485.1 158.88h0M527.9 177.62h0M453.3 149.51h0M533.1 186.20h0M474.7 166.53h0M558.6 190.94h0M591.5 198.15h0M496.7 163.48h0M470.4 165.05h0M557.2 188.06h0M526.4 187.90h0M543.9 183.94h0M447.5 158.56h0M481.8 179.45h0M498.5 176.11h0M435.4 149.18h0M586.0 190.79h0M462.7 168.87h0M429.9 125.93h0M572.1 191.21h0M478.5 175.69h0M496.0 173.19h0M536.8 177.62h0M553.5 187.04h0M514.5 187.10h0M550.2 185.41h0M551.1 185.16h0M422.1 123.60h0M505.8 182.15h0M586.2 201.37h0M451.6 166.39h0M537.3 185.16h0M459.9 150.42h0M435.7 142.22h0M469.4 171.99h0M451.8 159.15h0M481.1 177.79h0M423.1 126.95h0M432.6 145.67h0M455.1 153.70h0M429.1 130.02h0M453.5 162.92h0M503.5 181.02h0M534.4 177.70h0M570.1 187.56h0M466.2 170.84h0M513.2 177.34h0M438.1 148.22h0M459.7 153.40h0M474.3 160.28h0M553.5 181.89h0M515.8 184.04h0M560.0 185.87h0M558.6 187.03h0M528.2 179.36h0M497.6 180.41h0M503.5 174.41h0M425.3 130.70h0M476.3 172.01h0M578.4 195.93h0M472.7 172.82h0M589.5 199.12h0M553.3 188.15h0M557.6 187.12h0M471.3 155.92h0M583.0 193.54h0M583.1 192.89h0M585.0 196.48h0M442.8 140.36h0M509.5 176.94h0M494.0 163.80h0M555.9 183.29h0M459.3 150.45h0M416.2 102.01h0M557.2 182.90h0M452.3 164.12h0M572.3 191.58h0M580.4 197.37h0M500.4 182.78h0M530.1 187.53h0M590.1 197.22h0M472.5 155.62h0M492.8 184.01h0M582.5 192.47h0M483.1 173.87h0M480.6 179.58h0M475.2 172.85h0M429.3 130.52h0M449.5 161.59h0M451.9 151.34h0M448.8 148.45h0M469.0 165.05h0M485.5 160.55h0M583.3 193.97h0M455.0 166.47h0M496.3 185.41h0M514.9 179.86h0M474.9 178.14h0M476.7 171.79h0M447.8 144.77h0M513.5 177.77h0M552.3 181.70h0M499.4 178.83h0M536.6 187.84h0M524.1 184.30h0M521.8 176.90h0M564.4 185.69h0M518.0 187.23h0M512.6 182.18h0M477.9 168.06h0M416.9 108.04h0M482.2 164.37h0M472.7 163.08h0M487.4 176.44h0M484.5 174.09h0M451.6 150.92h0M580.5 192.14h0M453.3 147.50h0M592.5 197.99h0M505.5 180.47h0M434.1 145.59h0M421.8 117.12h0M549.3 189.28h0M432.7 137.45h0M473.4 167.14h0M495.8 166.34h0M426.9 132.91h0M518.7 180.02h0M535.8 177.99h0M516.1 179.03h0M592.1 200.03h0M443.8 160.34h0M430.0 130.82h0M495.0 168.96h0M418.2 115.00h0M578.7 194.95h0M476.3 167.41h0M540.3 180.30h0M423.1 119.21h0M451.7 152.56h0M565.1 189.29h0M550.4 187.91h0M560.6 189.19h0M463.5 166.24h0M482.6 160.55h0M504.4 175.37h0M502.0 165.31h0M589.7 192.65h0M466.4 168.81h0M464.9 169.72h0M574.1 194.77h0M567.1 188.53h0M501.9 165.18h0M513.5 188.69h0M418.5 115.75h0M521.6 177.31h0M473.2 173.90h0M581.8 197.14h0M536.3 184.21h0M517.9 174.68h0M554.6 188.08h0M501.7 166.61h0M533.2 181.16h0M545.3 179.49h0M466.9 173.24h0M479.6 177.34h0M536.2 180.13h0M498.5 175.26h0M475.0 161.34h0M486.2 174.85h0M503.5 179.09h0M448.2 155.31h0M486.8 164.65h0M439.4 150.71h0M490.8 174.19h0M442.8 139.19h0M555.1 190.22h0M418.0 117.14h0M563.6 189.65h0M492.9 161.23h0M532.3 183.35h0M592.2 192.54h0M555.8 185.95h0M522.7 178.25h0M456.8 162.93h0M511.0 183.50h0M530.8 177.60h0M457.9 155.81h0M519.8 180.63h0M534.5 184.07h0M431.5 136.36h0M453.9 163.52h0M501.3 187.43h0M496.7 175.41h0M481.3 168.75h0M534.8 178.11h0M492.5 182.50h0M473.8 169.90h0M547.9 184.63h0M493.7 174.76h0M529.9 179.49h0M469.4 156.69h0M437.0 136.43h0M481.4 174.65h0M510.0 185.91h0M470.4 167.18h0M564.5 188.40h0M475.9 169.08h0M440.9 155.88h0M444.9 155.60h0M556.3 183.14h0M558.4 183.73h0M463.7 166.47h0M439.2 138.50h0M481.9 165.88h0M484.9 169.00h0M583.8 189.95h0M513.4 175.91h0M485.6 164.58h0M558.6 184.61h0M541.4 186.99h0M556.7 183.24h0M508.8 178.93h0M432.7 148.19h0M484.1 177.45h0M460.4 170.61h0M553.5 182.79h0M458.4 159.47h0M478.5 164.27h0M503.3 165.26h0M537.7 180.83h0M522.7 180.21h0M477.3 167.84h0M464.0 155.68h0M436.5 152.17h0M478.0 174.15h0M505.2 186.05h0M512.6 173.91h0M454.1 158.62h0M487.1 167.95h0M504.2 178.14h0M516.6 176.30h0M504.8 184.66h0M461.3 169.59h0M580.0 191.79h0M586.3 199.47h0M483.7 181.26h0M454.0 149.20h0M579.5 194.58h0M442.8 154.08h0M490.3 162.23h0M515.1 182.84h0M455.0 152.17h0M426.1 120.81h0M500.6 176.79h0M458.8 161.89h0M548.0 182.49h0M444.3 138.72h0M477.5 179.09h0M496.2 174.56h0M554.6 187.51h0M520.2 186.59h0M552.7 181.42h0M459.7 150.67h0M559.8 189.01h0M452.3 159.36h0M526.9 185.55h0M454.0 160.56h0M515.6 181.27h0M588.4 198.88h0M450.6 148.63h0M502.2 169.46h0M432.5 136.79h0M493.1 177.89h0M431.1 140.11h0M491.8 165.97h0M488.0 171.79h0M533.9 185.00h0M472.9 178.97h0M449.8 151.21h0M489.8 177.75h0M419.5 109.66h0M525.5 179.91h0M507.0 177.01h0M494.3 171.05h0M496.3 172.78h0M448.6 152.76h0M501.3 178.95h0M426.2 131.54h0M513.0 179.88h0M487.9 180.39h0M486.2 171.55h0M478.2 168.12h0M510.1 176.77h0M471.8 163.63h0M583.1 189.11h0M450.8 150.77h0M461.7 156.50h0M578.3 190.67h0M481.5 172.08h0M475.4 177.39h0M443.2 159.58h0M525.8 181.02h0M491.3 171.55h0M476.8 155.78h0M518.5 178.44h0M556.1 191.21h0M585.1 194.04h0M510.3 172.30h0M542.2 183.78h0M419.9 122.79h0M554.2 183.31h0M482.7 167.80h0M434.8 147.84h0M503.7 173.73h0M502.3 181.18h0M463.9 172.73h0M488.2 159.89h0M533.6 181.25h0M481.0 162.01h0M587.8 202.16h0M435.2 149.36h0M471.4 173.96h0M491.5 179.04h0M482.1 163.00h0M566.4 188.50h0M512.9 187.76h0M433.8 132.81h0M475.2 169.71h0M505.9 175.53h0M497.9 181.19h0M574.8 190.50h0M507.2 170.46h0M482.6 158.69h0M424.6 125.50h0M491.4 177.82h0M425.7 120.95h0M488.4 178.16h0M429.4 138.37h0M476.1 160.12h0M452.2 157.73h0M484.7 158.50h0M451.5 151.37h0M480.8 161.99h0M456.7 164.89h0M512.7 182.18h0M472.8 160.68h0M539.6 178.68h0M430.5 133.70h0M432.9 129.31h0M501.3 178.67h0M575.7 191.50h0M470.8 170.05h0M529.1 176.51h0M509.1 182.49h0M495.2 169.72h0M498.9 181.69h0M498.9 176.15h0M588.2 197.52h0M462.3 152.93h0M572.6 187.49h0M476.4 162.95h0M583.2 189.50h0M489.8 159.59h0M478.4 156.50h0M445.5 151.80h0M440.5 137.84h0M509.9 171.62h0M518.7 188.17h0M539.7 182.40h0M440.5 150.05h0M586.0 190.58h0M565.5 184.63h0M460.6 149.95h0M474.6 161.25h0M523.2 184.51h0M488.5 169.06h0M512.0 187.16h0M486.6 173.63h0M592.3 198.49h0M579.4 190.46h0M548.5 185.30h0M447.6 155.76h0M553.6 182.18h0M492.5 163.55h0M494.8 164.95h0M486.9 178.91h0M531.7 182.74h0M490.0 163.07h0M587.6 195.15h0M479.0 176.63h0M428.1 133.49h0M442.1 156.24h0M570.8 190.33h0M524.5 176.02h0M449.5 150.35h0M484.6 171.61h0M449.5 145.63h0M458.0 149.99h0M574.5 193.54h0M508.8 187.56h0M428.7 130.42h0M512.4 183.37h0M456.1 148.25h0M485.0 180.20h0M565.5 192.80h0M538.0 185.86h0M477.4 175.97h0M562.7 186.66h0M485.1 175.39h0M487.9 168.89h0M575.7 188.63h0M479.1 157.25h0M457.7 162.13h0M502.8 162.85h0M456.2 148.47h0M431.5 134.03h0M481.7 157.83h0M581.1 198.41h0M480.5 173.00h0M429.4 130.71h0M513.8 184.34h0M479.3 166.73h0M468.0 154.60h0M521.6 184.98h0M476.5 161.12h0M436.8 145.12h0M532.5 178.02h0M510.1 179.70h0M490.7 175.75h0M482.0 168.99h0M552.3 185.13h0M505.0 183.77h0M443.5 152.36h0M461.4 153.87h0M592.4 196.49h0M451.8 156.85h0M488.2 169.89h0M432.7 146.39h0M456.1 157.84h0M521.1 184.97h0M531.3 179.04h0M448.7 149.35h0M449.1 160.85h0M472.3 155.25h0M572.8 191.78h0M520.5 174.63h0M438.5 142.15h0M502.5 185.42h0M513.3 176.94h0M472.3 160.13h0M460.0 153.71h0M425.8 133.32h0M460.9 158.92h0M449.0 157.20h0M477.0 162.79h0M421.5 123.99h0M420.8 118.26h0M445.7 155.55h0M491.6 183.92h0M444.5 161.25h0M480.7 160.27h0M495.0 176.81h0M500.5 167.93h0M506.1 176.41h0M535.3 185.26h0M537.8 183.72h0M473.3 173.93h0M461.8 164.85h0M500.4 171.36h0M431.1 127.85h0M490.6 167.09h0M473.1 164.32h0M455.5 154.27h0M565.0 185.62h0M569.1 193.49h0M481.4 179.57h0M500.2 173.07h0M538.5 186.96h0M556.5 185.92h0M453.5 145.25h0M430.3 136.45h0M570.9 189.68h0M489.3 161.14h0M492.1 174.51h0M507.7 167.53h0M547.4 186.04h0M593.3 194.50h0M432.1 132.15h0M485.3 176.86h0M477.5 162.07h0M567.8 190.66h0M465.9 162.92h0M580.0 194.85h0M479.8 176.16h0M501.5 164.92h0M419.3 110.33h0M464.0 152.70h0M460.0 159.52h0M512.4 170.10h0M499.3 162.74h0M550.0 187.34h0M582.4 200.37h0M468.7 172.82h0M594.0 193.89h0M581.9 189.04h0M584.5 195.30h0M500.3 162.58h0M494.4 166.45h0M458.6 165.91h0M502.4 166.20h0M467.6 172.49h0M504.8 177.76h0M537.8 182.62h0M512.5 173.45h0M441.3 150.29h0M438.9 152.54h0M563.0 189.87h0M585.8 195.84h0M431.9 138.52h0M562.5 189.62h0M512.5 176.97h0M440.9 150.98h0M516.9 179.60h0M426.2 125.33h0M536.8 177.25h0M441.7 142.14h0M528.7 187.40h0M535.0 179.98h0M457.2 162.27h0M590.8 194.01h0M474.2 174.50h0M435.0 136.65h0M527.2 180.93h0M508.5 188.24h0M505.7 183.38h0M539.9 184.86h0M448.2 149.03h0M477.5 163.71h0M477.2 168.49h0M500.4 172.88h0M475.6 177.12h0M555.9 188.67h0M486.1 163.63h0M521.8 177.84h0M424.4 122.92h0M499.4 164.73h0M582.8 201.10h0M476.3 162.42h0M449.6 153.22h0M467.1 170.49h0M486.2 164.31h0M490.3 164.88h0M525.1 176.42h0M488.4 168.95h0M491.4 163.51h0M473.1 170.35h0M555.7 184.76h0M589.6 196.59h0M558.5 185.74h0M504.6 172.25h0M526.6 175.33h0M534.8 184.01h0M428.2 140.55h0M570.2 186.74h0M547.2 185.93h0M502.0 178.44h0M532.3 188.01h0M526.2 181.21h0M476.7 170.54h0M427.3 122.25h0M521.6 176.29h0M463.2 171.98h0M475.3 155.82h0M462.2 154.40h0M439.3 149.33h0M559.5 190.15h0M545.4 182.88h0M580.5 197.95h0M510.0 176.17h0M451.6 162.12h0M514.1 181.00h0M522.6 185.70h0M490.9 170.08h0M487.2 176.72h0M552.4 186.80h0M462.7 171.40h0M490.6 168.60h0M531.4 181.41h0M583.2 189.50h0M519.5 178.47h0M442.3 157.10h0M490.4 171.02h0M545.5 182.28h0M466.5 164.40h0M479.8 175.87h0M441.0 147.60h0M537.3 177.97h0M433.4 140.11h0M430.9 136.24h0M579.7 197.59h0M451.1 147.00h0M501.5 183.06h0M456.3 163.21h0M426.5 135.93h0M586.4 193.91h0M477.3 171.74h0M482.7 175.90h0M438.6 152.93h0M451.1 166.62h0M493.3 165.49h0M461.2 168.10h0M586.0 191.61h0M504.4 187.49h0M493.8 184.27h0M467.4 167.01h0M439.0 143.93h0M503.2 175.32h0M474.1 175.40h0M488.3 176.00h0M518.9 183.53h0M462.7 152.58h0M538.6 181.09h0M511.3 176.18h0M490.9 173.47h0M469.8 175.10h0M467.5 165.33h0M457.8 162.07h0M464.2 150.66h0M531.3 177.69h0M553.9 182.31h0M431.2 144.51h0M442.9 143.92h0M512.5 177.13h0M464.7 172.60h0M456.7 152.56h0M483.4 169.58h0M490.0 174.81h0M446.4 154.54h0M499.5 186.27h0M580.5 189.98h0M510.3 185.60h0M589.6 199.79h0M416.2 103.55h0M521.3 177.79h0M479.4 175.64h0M465.6 170.18h0M563.0 184.67h0M475.8 165.99h0M482.5 169.57h0M436.3 148.32h0M579.9 195.75h0M500.3 163.75h0M471.6 158.76h0M464.1 154.33h0M470.8 172.84h0M463.2 153.63h0M587.8 195.60h0M457.8 166.57h0M458.8 149.42h0M453.8 145.34h0M501.2 172.49h0M452.0 160.95h0M439.0 154.94h0M432.1 129.99h0M477.6 169.45h0M495.5 163.42h0M583.0 190.52h0M586.2 197.60h0M449.3 158.97h0M584.9 192.22h0M445.3 141.69h0M523.6 175.12h0M459.7 152.02h0M433.2 130.08h0M551.6 180.88h0M587.1 195.28h0M479.7 171.88h0M483.8 163.59h0M441.3 142.27h0M480.8 180.31h0M447.8 151.67h0M577.9 196.23h0M520.0 187.42h0M574.5 191.27h0M579.0 196.84h0M493.8 162.70h0M438.0 152.76h0M521.1 188.09h0M461.8 155.94h0M512.4 170.31h0M528.7 176.06h0M479.8 177.60h0M539.6 181.25h0M491.2 176.94h0M442.9 145.14h0M476.6 176.81h0M432.9 135.06h0M533.9 181.45h0M469.4 163.54h0M590.6 196.39h0M510.3 182.18h0M567.9 187.39h0M451.6 148.82h0M459.7 158.19h0M462.7 161.71h0M499.4 172.69h0M468.8 168.28h0M580.2 193.42h0M432.4 146.51h0M490.6 170.57h0M500.0 175.34h0M497.8 166.11h0M475.0 172.35h0M446.4 156.64h0M544.6 180.85h0M459.3 166.54h0M447.6 159.95h0M482.0 163.03h0M491.9 183.04h0M453.5 165.35h0M448.0 161.06h0M586.1 198.98h0M524.7 186.28h0M457.5 169.92h0M504.9 180.97h0M585.0 196.52h0M532.4 186.19h0M585.1 194.43h0M477.0 175.47h0M505.8 178.50h0M509.2 172.69h0M523.4 177.34h0M517.1 179.03h0M442.6 139.26h0M418.0 114.59h0M592.1 196.36h0M466.8 161.10h0M481.4 165.19h0M508.0 181.26h0M450.7 163.25h0M472.3 163.20h0M447.7 153.93h0M464.3 163.88h0M501.6 164.35h0M549.5 183.66h0M423.0 125.18h0M578.6 190.11h0M476.5 178.57h0M438.0 150.85h0M508.2 185.21h0M479.5 177.74h0M427.3 128.05h0M466.8 166.91h0M511.6 175.78h0M539.1 180.20h0M452.5 165.04h0M467.6 167.05h0M476.3 168.54h0M525.1 183.24h0M466.0 160.07h0M441.4 143.34h0M421.0 114.89h0M491.1 178.91h0M438.4 142.78h0M469.3 157.31h0M451.1 150.24h0M418.2 118.31h0M443.9 151.87h0M424.3 117.29h0M506.8 179.86h0M492.6 174.65h0M545.8 188.56h0M581.9 191.41h0M470.6 157.68h0M427.8 128.28h0M524.5 180.31h0M582.5 189.50h0M522.0 179.02h0M416.8 105.18h0M455.5 158.07h0M568.7 191.99h0M494.0 166.10h0M505.0 168.46h0M502.4 184.22h0M566.0 185.77h0M517.6 180.55h0M474.6 175.43h0M452.2 145.01h0M494.5 181.72h0M494.1 165.65h0M519.6 180.86h0M440.0 143.78h0M511.1 178.61h0M469.4 169.17h0M548.2 188.06h0M482.6 168.88h0M555.0 181.96h0M486.0 179.77h0M459.0 161.49h0M526.7 184.54h0M572.4 189.10h0M519.3 179.81h0M545.0 186.30h0M506.2 179.92h0M526.7 176.80h0M476.0 158.71h0M488.3 182.26h0M491.6 182.08h0M475.8 162.90h0M552.3 182.74h0M517.4 175.67h0M471.7 161.57h0M473.3 164.90h0M491.0 177.54h0M510.9 188.58h0M468.0 165.89h0M489.1 172.27h0M483.8 171.67h0M448.0 143.36h0M481.8 160.64h0M461.8 159.00h0M425.0 127.49h0M492.7 180.56h0M429.5 138.65h0M496.6 172.45h0M462.3 171.97h0M462.5 165.98h0M433.5 140.46h0M508.5 173.03h0M481.7 172.05h0M472.1 172.98h0M550.4 186.36h0M592.3 195.95h0M445.8 145.41h0M482.2 179.36h0M444.2 143.63h0M448.5 155.79h0M507.4 187.39h0M491.0 176.81h0M460.3 161.58h0M500.2 174.39h0M452.0 148.51h0M441.2 155.02h0M506.1 182.64h0M556.9 182.66h0M533.7 179.99h0M475.6 161.01h0M457.4 153.62h0M567.5 193.32h0M542.4 181.87h0M523.8 177.73h0M497.7 161.52h0M510.9 187.33h0M428.7 139.24h0M481.8 175.55h0M427.6 137.69h0M469.6 154.36h0M437.9 145.67h0M537.8 187.47h0M504.7 175.92h0M473.0 159.78h0M433.0 138.98h0M503.2 174.83h0M453.7 146.25h0M439.7 152.29h0M500.7 172.80h0M511.2 188.32h0M458.7 159.92h0M508.0 181.59h0M463.5 172.88h0M432.9 147.82h0M452.9 162.05h0M540.7 182.95h0M495.9 168.07h0M476.8 173.70h0M495.8 173.12h0M554.4 184.57h0M458.9 157.10h0M485.6 178.80h0M578.5 192.42h0M489.9 176.58h0M589.9 196.65h0M502.6 182.38h0M485.7 179.12h0M430.9 135.32h0M433.1 134.84h0M482.5 174.08h0M535.7 186.17h0M578.8 198.16h0M489.9 162.01h0M516.4 179.52h0M486.4 176.93h0M485.9 162.74h0M502.7 171.13h0M529.7 184.75h0M453.9 156.23h0M535.7 179.99h0M465.3 166.61h0M541.7 181.46h0M537.5 183.39h0M540.7 182.80h0M445.6 141.45h0M567.2 186.67h0M436.2 140.80h0M579.2 198.06h0M582.0 192.33h0M418.3 118.70h0M453.2 152.71h0M470.6 171.13h0M592.2 197.65h0M568.7 188.87h0M590.8 191.48h0M446.1 162.97h0M505.9 187.64h0M473.8 165.78h0M444.6 146.66h0M581.6 199.99h0M447.4 146.66h0M426.4 120.99h0M501.0 167.16h0M452.9 150.92h0M443.6 151.42h0M582.2 195.95h0M440.8 140.28h0M589.9 200.23h0M504.2 173.79h0M448.1 164.38h0M524.7 174.90h0M512.6 176.53h0M496.2 165.58h0M432.7 135.55h0M509.7 170.26h0M473.7 158.14h0M487.6 165.09h0M471.1 171.40h0M478.4 175.83h0M481.1 176.97h0M470.5 171.80h0M473.1 173.29h0M509.2 183.16h0M476.7 162.55h0M569.1 186.27h0M424.5 131.12h0M558.2 186.32h0M464.3 151.97h0M520.4 187.73h0M566.8 193.34h0M433.2 139.70h0M514.5 176.44h0M514.5 177.94h0M440.3 148.30h0M555.7 190.04h0M573.3 189.39h0M451.6 160.98h0M447.7 143.46h0M563.7 185.74h0M489.0 173.82h0M542.1 185.90h0M489.6 178.84h0M504.3 182.11h0M481.4 179.27h0M416.5 104.82h0M442.4 148.24h0M532.6 176.27h0M426.9 124.69h0M429.9 143.52h0M440.1 141.76h0M462.5 170.67h0M567.5 189.98h0M490.1 169.39h0M542.2 181.35h0M433.0 142.24h0M451.0 158.62h0M515.3 173.42h0M588.2 191.59h0M577.8 189.79h0M548.9 186.54h0M417.6 104.89h0M458.4 150.76h0M453.6 157.11h0M480.1 169.75h0M544.5 182.83h0M424.3 132.86h0M464.6 168.66h0M477.3 176.01h0M494.1 180.07h0M534.5 178.14h0M490.1 167.14h0M511.9 175.20h0M487.9 159.68h0M470.4 169.61h0M489.1 170.91h0M447.5 150.77h0M419.5 116.32h0M417.7 106.92h0M445.3 144.62h0M480.7 158.69h0M569.6 191.68h0M549.3 180.49h0M531.3 178.37h0M480.0 164.13h0M577.0 194.87h0M475.8 177.94h0M534.9 182.48h0M502.6 178.12h0M432.9 141.97h0M556.0 185.01h0M483.0 165.36h0M434.9 144.51h0M448.5 147.91h0M465.0 165.46h0M430.9 134.89h0M539.6 185.49h0M517.7 175.57h0M487.1 160.81h0M515.6 175.18h0M471.5 164.47h0M452.5 152.80h0M443.9 159.01h0M453.6 149.55h0M504.9 178.08h0M588.3 197.55h0M472.0 171.30h0M453.1 158.85h0M443.4 140.44h0M590.4 200.13h0M444.7 152.73h0M514.8 179.25h0M456.3 166.67h0M499.8 185.97h0M437.8 151.16h0M469.7 176.08h0M446.8 147.31h0M470.0 159.66h0M445.2 158.16h0M587.4 200.14h0M489.5 175.71h0M449.3 143.53h0M551.9 183.03h0M439.1 138.40h0M493.6 181.77h0M587.6 196.38h0M478.4 170.87h0M486.8 160.80h0M471.6 170.04h0M588.5 195.67h0M524.9 181.98h0M497.7 186.00h0M506.5 165.46h0M476.6 160.00h0M551.5 185.06h0M535.7 186.08h0M441.5 138.45h0M494.9 173.88h0M575.0 191.97h0M432.1 145.49h0M438.4 140.33h0M500.1 172.59h0M425.8 135.59h0M474.4 158.78h0M583.2 189.47h0M572.7 191.29h0M492.9 175.25h0M512.2 179.05h0M571.2 192.30h0M582.5 191.84h0M591.9 198.59h0M434.1 135.46h0M476.5 164.49h0M585.3 195.93h0M533.5 185.15h0M453.7 164.52h0M535.6 184.39h0M498.3 170.92h0M561.7 184.97h0M447.6 154.12h0M509.0 171.45h0M425.5 126.00h0M545.7 185.60h0M591.9 196.72h0M476.0 162.09h0M491.0 163.29h0M502.6 167.37h0M506.1 177.74h0M537.3 178.38h0M421.1 123.15h0M466.6 160.79h0M590.0 199.52h0M517.2 176.42h0M458.5 155.36h0M466.7 171.25h0M524.3 175.58h0M474.2 175.49h0M503.4 180.69h0M519.2 174.40h0M525.9 175.93h0M485.9 175.43h0M470.6 156.76h0M472.6 177.74h0M450.2 148.78h0M509.2 168.13h0M516.4 185.85h0M430.2 133.45h0M511.4 181.10h0M587.8 201.56h0M479.8 163.11h0M491.4 160.70h0M457.5 161.73h0M582.0 196.39h0M516.1 178.93h0M449.7 160.33h0M476.1 159.91h0M535.1 180.13h0M429.0 138.55h0M500.7 180.36h0M582.4 200.40h0M458.8 152.15h0M587.7 190.90h0M456.7 167.79h0M582.0 190.64h0M502.0 169.73h0M524.9 180.34h0M537.5 182.90h0M502.9 182.81h0M470.7 155.86h0M426.4 124.45h0M489.8 181.38h0M491.6 175.18h0M549.1 189.19h0M487.1 178.11h0M557.8 190.30h0M498.6 169.83h0M528.1 180.19h0M473.5 173.07h0M521.6 177.16h0M485.9 174.93h0M471.8 155.80h0M476.3 162.65h0M420.4 122.22h0M477.4 158.87h0M432.9 138.45h0M480.6 173.37h0M491.0 171.14h0M465.4 164.34h0M546.0 181.14h0M512.3 185.09h0M552.6 187.06h0M512.8 172.71h0M436.3 141.50h0M508.7 170.54h0M455.7 157.57h0M524.6 181.70h0M502.8 172.50h0M481.2 158.98h0M580.6 195.25h0M446.7 161.58h0M485.9 164.44h0M491.7 162.16h0M468.1 171.59h0M500.7 180.03h0M446.8 145.44h0M593.0 191.90h0M520.8 181.42h0M461.9 150.71h0M469.0 170.03h0M472.1 163.10h0M581.6 195.32h0M547.4 185.57h0M458.6 163.40h0M564.8 190.94h0M507.4 173.58h0M502.6 186.04h0M454.1 161.28h0M506.3 168.06h0M453.0 162.40h0M519.9 181.01h0M498.8 183.03h0M430.1 142.09h0M507.2 186.49h0M434.9 139.98h0M482.3 164.06h0M440.6 153.17h0M545.8 188.43h0M517.9 188.21h0M438.8 152.22h0M514.5 180.17h0M428.9 128.77h0M433.9 135.49h0M466.5 157.31h0M465.6 171.39h0M468.9 164.89h0M491.1 165.85h0M453.5 157.27h0M532.7 181.37h0M454.9 153.66h0M435.3 144.72h0M529.7 178.08h0M439.6 151.02h0M469.8 173.50h0M583.8 199.03h0M513.5 181.13h0M441.6 156.68h0M509.3 168.31h0M440.0 139.38h0M471.8 162.57h0M566.8 187.54h0M421.4 120.95h0M433.6 148.56h0M430.4 129.42h0M467.3 174.59h0M417.1 110.58h0M431.7 142.16h0M420.9 124.09h0M498.5 180.07h0M469.7 166.48h0M481.7 161.31h0M456.0 156.04h0M536.4 181.56h0M518.6 176.65h0M479.6 167.19h0M446.9 152.90h0M507.5 167.52h0M481.2 163.77h0M508.6 174.79h0M451.9 159.32h0M488.2 182.31h0M481.2 177.39h0M484.8 160.08h0M583.5 195.49h0M440.9 138.78h0M424.6 128.88h0M535.0 178.66h0M488.2 163.25h0M493.2 166.71h0M473.7 169.03h0M491.3 170.63h0M588.1 202.35h0M524.8 176.80h0M427.8 127.88h0M502.2 185.87h0M503.9 187.99h0M504.0 181.85h0M486.7 168.43h0M454.7 148.14h0M495.6 172.83h0M479.0 174.68h0M467.8 166.36h0M471.7 163.35h0M531.6 178.91h0M433.4 143.70h0M487.2 175.46h0M589.8 200.76h0M480.1 157.79h0M434.8 138.39h0M446.2 162.98h0M514.9 172.95h0M480.1 166.94h0M437.5 147.54h0M491.5 161.35h0M569.3 185.57h0M506.7 179.66h0M503.8 176.88h0M534.9 181.51h0M454.2 149.03h0M447.3 154.90h0M579.2 188.55h0M428.9 128.67h0M564.7 192.11h0M435.3 144.65h0M550.5 187.21h0M534.8 186.00h0M497.5 180.62h0M519.6 173.74h0M528.4 185.11h0M451.1 148.61h0M512.2 184.88h0M452.3 156.90h0M521.7 185.72h0M431.0 134.10h0M548.4 189.43h0M562.2 188.83h0M501.2 163.42h0M586.2 194.56h0M512.5 186.31h0M432.6 143.46h0M592.9 193.28h0M486.9 170.44h0M452.2 151.49h0M463.4 155.27h0M473.0 161.67h0M522.4 174.32h0M494.6 182.03h0M463.1 170.94h0M506.0 182.71h0M536.0 177.49h0M530.4 178.70h0M434.8 149.43h0M477.1 170.56h0M570.7 190.69h0M490.0 180.06h0M506.3 183.41h0M442.9 146.75h0M442.9 139.84h0M491.3 169.93h0M500.2 175.35h0M499.3 183.37h0M494.8 163.48h0M433.6 137.07h0M575.9 190.57h0M534.7 184.24h0M443.3 148.40h0M584.1 196.41h0M583.8 199.73h0M505.4 173.85h0M517.7 179.83h0M427.3 122.50h0M545.9 182.64h0M496.0 182.87h0M463.0 170.61h0M543.4 186.36h0M508.8 174.82h0M453.9 161.51h0M468.8 165.66h0M475.7 163.56h0M450.6 163.47h0M502.9 183.74h0M423.2 115.65h0M422.3 117.49h0M494.6 180.52h0M543.5 184.03h0M533.7 186.68h0M443.0 141.22h0M504.7 184.96h0M488.5 170.06h0M494.6 181.71h0M493.2 164.33h0M460.0 167.51h0M585.9 193.62h0M534.9 188.28h0M532.1 186.65h0M502.1 181.16h0M478.7 170.25h0M517.1 185.62h0M497.1 185.69h0M501.7 180.66h0M504.1 175.35h0M508.4 166.60h0M583.4 200.01h0M533.2 186.24h0M500.3 174.82h0M462.4 153.92h0M546.6 179.82h0M427.3 139.26h0M448.0 159.10h0M455.6 147.43h0M474.1 170.73h0M501.7 170.63h0M487.5 165.33h0M417.3 114.38h0M540.5 187.28h0M549.3 184.45h0M469.6 158.38h0M469.8 176.65h0M431.3 132.39h0M462.2 159.36h0M573.1 187.06h0M489.5 179.62h0M459.6 162.97h0M513.0 187.48h0M484.7 169.19h0M507.6 179.10h0M492.1 174.39h0M540.5 178.53h0M438.3 153.18h0M539.5 181.68h0M497.8 161.49h0M426.9 126.08h0M465.9 172.18h0M539.7 179.27h0M493.0 176.94h0M520.3 178.83h0M483.9 168.69h0M446.7 152.67h0M464.4 169.25h0M437.0 150.50h0M459.0 153.86h0M494.0 161.08h0M534.4 177.33h0M492.1 166.94h0M442.9 156.15h0M416.7 106.30h0M437.9 145.97h0M427.4 136.42h0M523.4 184.28h0M528.9 184.14h0M555.0 187.20h0M483.7 181.17h0M489.2 163.95h0M480.8 164.18h0M540.9 179.99h0M462.5 165.35h0M458.0 164.11h0M485.0 159.75h0M507.1 166.06h0M490.5 178.67h0M482.7 179.49h0M487.1 163.95h0M447.8 162.05h0M549.6 187.87h0M556.7 188.69h0M497.2 183.26h0M425.2 133.81h0M434.8 148.88h0M508.6 167.16h0M492.0 172.59h0M481.4 177.35h0M511.9 187.61h0M501.5 186.66h0M447.0 159.77h0M419.2 116.71h0M426.9 126.82h0M437.8 152.21h0M427.3 136.24h0M594.4 196.51h0M496.1 172.82h0M481.5 177.71h0M454.4 145.75h0M424.3 122.80h0M509.2 180.22h0M483.8 168.34h0M467.0 152.93h0M499.6 181.62h0M419.7 108.85h0M586.8 196.37h0M588.6 191.06h0M426.3 124.84h0M506.0 184.93h0M490.7 166.81h0M446.2 147.22h0M424.2 126.30h0M507.3 184.02h0M552.0 184.26h0M503.3 168.69h0M440.2 150.83h0M515.5 188.53h0M537.2 185.65h0M444.9 159.42h0M535.3 181.16h0M443.6 140.23h0M504.1 175.24h0M456.7 162.06h0M490.0 168.08h0M512.1 180.32h0M486.6 172.34h0M473.7 167.96h0M436.5 137.90h0M510.5 173.13h0M517.0 178.46h0M471.7 178.05h0M458.1 170.46h0M479.1 169.95h0M466.1 159.39h0M486.7 175.73h0M462.3 152.67h0M487.5 165.41h0M530.8 184.05h0M453.9 156.40h0M467.5 173.64h0M449.9 162.51h0M440.0 146.64h0M486.0 175.96h0M555.9 188.49h0M469.0 154.18h0M468.2 154.46h0M447.4 155.90h0M476.2 170.85h0M451.4 163.98h0M494.2 182.63h0M500.3 166.90h0M443.8 150.64h0M505.8 180.12h0M544.5 184.51h0M417.2 114.87h0M488.7 169.93h0M528.9 182.56h0M445.9 140.84h0M439.5 141.10h0M458.7 170.42h0M496.1 170.09h0M455.2 164.19h0M509.3 187.63h0M447.5 150.29h0M555.4 187.70h0M583.3 201.06h0M498.1 171.79h0M449.7 153.40h0M478.0 175.20h0M456.8 169.58h0M459.9 149.16h0M459.7 165.14h0M496.8 163.81h0M423.3 118.17h0M522.8 176.21h0M426.4 133.59h0M475.0 170.69h0M582.3 197.85h0M517.7 186.07h0M455.9 151.89h0M573.9 192.10h0M436.6 147.63h0M489.6 163.86h0M464.2 151.61h0M419.8 115.50h0M474.8 172.55h0M482.2 176.90h0M480.5 167.74h0M478.9 165.71h0M559.9 184.35h0M464.4 155.37h0M472.7 169.47h0M509.9 171.20h0M420.6 114.06h0M417.7 109.20h0M500.8 169.07h0M526.7 182.87h0M504.8 167.10h0M499.7 168.55h0M508.8 173.89h0M577.5 188.57h0M444.3 150.39h0M514.4 186.77h0M478.2 179.26h0M484.6 168.12h0M588.4 195.91h0M449.7 154.56h0M519.8 178.37h0M425.3 120.47h0M512.7 178.53h0M455.1 158.71h0M548.3 184.24h0M577.3 195.66h0M523.0 174.38h0M522.4 186.48h0M574.0 190.79h0M496.5 181.26h0M501.0 168.04h0M493.6 163.30h0M433.5 141.07h0M580.6 196.82h0M502.3 176.50h0M526.5 182.53h0M580.2 192.97h0M502.0 187.29h0M457.5 152.19h0M500.4 168.50h0M489.2 166.74h0M425.8 135.30h0M525.3 176.15h0M496.1 175.62h0M485.9 169.27h0M466.5 170.74h0M468.0 159.63h0M465.7 163.95h0M524.8 183.00h0M479.0 160.91h0M486.9 161.61h0M463.0 170.82h0M574.0 194.07h0M457.7 150.18h0M521.7 181.54h0M491.5 172.17h0M469.9 173.68h0M479.3 172.16h0M541.4 183.69h0M508.5 168.94h0M506.7 166.08h0M485.6 171.06h0M447.9 154.38h0M510.3 169.58h0M425.1 135.09h0M451.5 158.43h0M474.5 167.60h0M533.0 183.12h0M449.7 158.75h0M505.1 175.96h0M425.1 131.89h0M455.6 167.59h0M468.9 175.30h0M547.3 186.07h0M452.4 163.13h0M417.2 106.26h0M426.1 123.02h0M432.8 138.60h0M593.7 197.82h0M439.0 155.19h0M483.4 179.90h0M565.9 192.50h0M445.3 157.49h0M490.2 169.08h0M516.8 174.90h0M504.8 175.22h0M509.3 188.41h0M489.7 172.00h0M524.7 189.02h0M423.8 119.20h0M562.0 183.60h0M522.7 175.93h0M516.4 182.28h0M456.4 149.02h0M561.3 190.63h0M492.0 163.67h0M471.7 154.64h0M486.1 159.66h0M430.7 142.65h0M473.8 176.39h0M469.9 163.25h0M471.1 155.87h0M457.9 164.12h0M438.6 141.37h0M479.4 169.86h0M501.9 187.37h0M557.5 191.07h0M506.6 179.34h0M446.8 149.34h0M428.5 131.05h0M479.1 174.56h0M478.6 178.65h0M465.0 173.43h0M466.4 175.36h0M518.5 180.36h0M415.7 106.75h0M467.3 175.71h0M494.3 177.48h0M573.5 191.48h0M436.3 140.75h0M441.3 145.15h0M487.5 178.36h0M459.1 157.94h0M458.3 166.85h0M502.4 170.60h0M431.3 144.30h0M506.4 179.56h0M419.7 117.53h0M497.7 177.39h0M461.8 174.06h0M418.0 115.73h0M588.0 202.67h0M462.3 150.73h0M416.6 105.38h0M420.8 114.20h0M579.2 198.41h0M480.5 157.99h0M563.0 191.85h0M508.6 185.70h0M470.4 167.07h0M592.4 193.74h0M459.8 163.84h0M486.6 183.62h0M483.3 170.29h0M538.9 177.98h0M443.8 151.11h0M511.3 174.96h0M504.2 168.41h0M548.1 178.76h0M448.0 145.06h0M449.0 156.61h0M474.2 177.66h0M505.2 168.74h0M460.3 157.33h0M465.5 170.08h0M505.4 184.58h0M574.4 193.24h0M495.2 162.05h0M447.6 151.09h0M502.5 174.70h0M465.4 153.23h0M504.3 185.05h0M544.7 179.06h0M467.3 164.35h0M494.9 181.46h0M556.3 186.65h0M528.5 185.37h0M536.0 187.08h0M427.6 137.74h0M478.3 157.20h0M557.3 182.18h0M503.7 188.35h0M450.2 161.88h0M578.4 196.51h0M460.6 156.09h0M460.0 146.90h0M422.6 115.22h0M457.1 148.50h0M549.4 189.33h0M553.2 186.95h0M559.8 189.82h0M502.9 168.58h0M481.9 168.88h0M574.2 191.80h0M502.4 177.34h0M455.3 167.83h0M489.3 163.22h0M559.9 185.41h0M508.1 167.88h0M430.9 147.55h0M555.6 188.33h0M505.9 177.61h0M489.0 179.65h0M595.5 194.93h0M474.0 157.91h0M498.1 172.53h0M446.2 160.93h0M549.0 184.76h0M416.2 110.39h0M479.5 169.15h0M472.3 159.48h0M583.7 196.97h0M433.6 128.66h0M450.1 164.11h0M511.5 178.21h0M433.6 150.26h0M593.8 198.54h0M589.3 203.08h0M560.3 182.93h0M577.4 188.83h0M444.1 145.17h0M531.8 188.86h0M512.9 170.45h0M452.5 157.99h0M528.9 177.42h0M423.6 122.16h0M591.4 193.21h0M449.3 156.04h0M486.0 164.70h0M465.4 176.18h0M590.6 201.74h0M511.8 175.14h0M448.2 149.66h0M470.8 169.15h0M441.0 144.05h0M531.8 188.89h0M513.8 169.93h0M530.2 177.20h0M415.2 100.24h0M453.3 162.38h0M564.9 183.98h0M513.7 187.86h0M473.7 175.37h0M458.1 154.83h0M489.5 179.73h0M593.1 192.32h0M481.1 164.24h0M448.6 142.41h0M427.0 129.76h0M531.6 179.53h0M486.1 178.11h0M501.9 168.06h0M426.0 138.41h0M435.7 132.33h0M514.4 182.12h0M459.5 156.98h0M515.3 176.00h0M478.6 176.03h0M444.4 144.81h0M448.5 152.64h0M518.2 181.48h0M527.3 178.92h0M434.1 129.75h0M537.2 182.59h0M524.7 179.13h0M416.5 112.81h0M444.0 160.70h0M548.2 186.90h0M431.2 144.77h0M436.9 152.89h0M469.4 168.79h0M465.3 171.50h0M471.7 154.74h0M459.2 153.84h0M543.3 184.61h0M437.0 143.15h0M475.3 165.76h0M472.5 165.42h0M438.2 138.68h0M570.6 193.96h0M482.9 176.81h0M512.6 183.41h0M495.3 160.63h0M508.0 170.10h0M500.5 186.93h0M429.2 143.60h0M556.2 185.49h0M520.1 186.52h0M456.9 152.92h0M422.4 124.91h0M465.1 155.10h0M437.8 145.20h0M518.8 180.92h0M419.8 126.03h0M517.8 184.32h0M544.9 181.74h0M533.6 187.99h0M480.2 161.29h0M567.8 194.66h0M519.5 183.55h0M501.2 170.56h0M470.2 177.43h0M536.0 183.72h0M476.4 166.65h0M425.5 129.37h0M482.0 169.93h0M450.9 147.79h0M433.1 142.19h0M487.2 181.43h0M450.3 159.21h0M471.5 173.16h0M480.1 173.19h0M428.2 124.72h0M498.7 171.10h0M483.9 170.18h0M477.3 164.36h0M431.9 135.28h0M585.2 195.79h0M546.4 179.73h0M477.4 180.44h0M430.9 128.48h0M488.7 183.03h0M470.4 173.73h0M440.0 157.21h0M429.3 145.88h0M445.9 163.77h0M539.6 178.83h0M468.2 176.25h0M580.3 198.99h0M466.1 175.68h0M564.7 192.21h0M511.5 187.52h0M454.3 157.35h0M533.9 177.12h0M528.6 178.17h0M532.8 184.29h0M502.2 168.96h0M425.0 127.84h0M507.5 171.56h0M469.1 175.04h0M505.5 180.57h0M504.3 175.41h0M582.8 198.58h0M456.8 152.16h0M506.0 176.04h0M557.7 190.53h0M502.8 177.68h0M446.7 148.07h0M448.9 146.84h0M552.3 180.78h0M482.7 171.83h0M507.8 164.93h0M469.4 160.34h0M499.0 161.93h0M459.2 147.73h0M567.1 193.29h0M457.8 153.07h0M469.1 170.38h0M505.0 188.96h0M588.1 189.38h0M550.2 190.42h0M465.2 161.77h0M517.1 176.26h0M510.2 184.46h0M491.8 168.57h0M489.6 165.21h0M457.0 167.65h0M495.3 180.77h0M449.5 156.05h0M441.3 136.70h0M463.8 154.14h0M591.7 192.82h0M527.8 177.97h0M501.0 163.52h0M465.8 151.71h0M421.9 111.12h0M516.2 188.61h0M480.7 160.65h0M416.9 110.85h0M421.2 120.94h0M466.8 154.73h0M578.7 200.36h0M506.6 164.06h0M458.8 161.04h0M595.4 193.68h0M538.6 188.22h0M438.9 146.10h0M501.5 161.23h0M494.4 182.34h0M521.9 182.44h0M434.0 147.08h0M434.4 137.76h0M580.9 193.69h0M481.3 160.94h0M455.6 147.23h0M463.4 163.48h0M461.9 166.67h0M453.9 147.62h0M503.1 180.22h0M458.6 154.21h0M538.8 178.03h0M461.6 173.56h0M583.1 199.17h0M584.2 192.23h0M478.5 161.08h0M432.3 140.33h0M544.8 183.33h0M433.2 130.36h0M536.6 187.35h0M494.0 181.75h0M520.4 183.82h0M467.8 176.88h0M588.2 196.52h0M420.4 109.41h0M586.8 197.30h0M441.6 138.45h0M466.8 151.81h0M462.0 161.48h0M496.0 181.03h0M586.4 189.98h0M510.2 186.90h0M491.0 164.60h0M502.0 165.71h0M526.4 181.90h0M512.1 174.47h0M434.6 130.05h0M426.1 135.52h0M424.7 122.19h0M554.7 185.08h0M439.5 138.61h0M454.2 144.39h0M522.0 181.08h0M463.3 158.69h0M432.2 149.38h0M592.8 191.63h0M505.7 169.86h0M565.1 187.87h0M431.9 136.51h0M465.4 174.70h0M455.8 149.07h0M416.1 104.56h0M428.4 137.78h0M542.8 185.49h0M445.8 156.13h0M450.1 145.85h0M521.8 174.94h0M501.7 165.58h0M589.7 196.73h0M504.3 165.48h0M464.6 167.25h0M469.3 177.49h0M587.7 196.92h0M469.2 172.42h0M533.3 178.15h0M432.7 144.37h0M450.9 159.19h0M430.7 139.55h0M427.1 123.28h0M451.3 151.51h0M542.9 185.59h0M593.3 200.47h0M439.3 151.04h0M478.2 161.06h0M562.4 185.66h0M557.1 181.20h0M483.1 158.11h0M552.8 182.35h0M468.6 176.33h0M519.5 184.43h0M451.9 143.67h0M449.8 167.28h0M589.5 198.00h0M538.2 178.79h0M580.2 194.50h0M458.5 157.82h0M580.8 192.47h0M427.3 127.23h0M526.5 181.29h0M443.4 139.13h0M434.5 147.18h0M487.4 158.87h0M468.2 169.79h0M468.9 175.95h0M511.7 175.41h0M503.7 179.71h0M580.2 190.31h0M470.6 156.41h0M497.2 165.72h0M432.9 139.92h0M440.4 145.62h0M559.0 188.42h0M442.8 151.28h0M457.5 148.99h0M474.3 159.72h0M502.9 165.23h0M447.5 157.33h0M451.6 160.10h0M476.7 178.23h0M465.3 175.84h0M563.2 183.04h0M511.9 189.26h0M443.9 145.62h0M457.2 146.74h0M535.7 178.04h0M521.2 189.37h0M429.8 141.95h0M468.3 168.91h0M457.1 148.00h0M429.0 134.85h0M458.7 161.42h0M468.6 177.81h0M566.6 185.52h0M522.7 175.70h0M416.0 115.19h0M484.9 179.48h0M432.1 150.31h0M474.4 164.33h0M474.1 161.46h0M501.2 164.96h0M421.2 115.09h0M459.6 167.01h0M460.2 171.58h0M458.4 148.36h0M526.7 177.91h0M472.1 154.01h0M418.4 123.27h0M486.3 175.89h0M593.6 197.62h0M515.5 177.28h0M488.2 163.48h0M501.5 182.10h0M440.9 146.99h0M415.6 104.90h0M587.2 201.45h0M470.7 156.97h0M557.1 191.09h0M483.1 180.91h0M522.1 185.10h0M490.9 174.45h0M516.7 175.20h0M528.4 182.68h0M520.1 181.41h0M547.8 187.05h0M537.9 178.47h0M457.3 167.45h0M455.7 164.31h0M526.9 188.71h0M435.5 136.30h0M493.6 166.96h0M455.8 145.50h0M521.4 184.61h0M518.8 177.85h0M495.0 183.39h0M516.1 180.03h0M504.6 170.93h0M434.3 130.50h0M478.7 163.70h0M485.7 173.53h0M456.8 159.16h0M447.9 153.63h0M478.9 163.60h0M511.3 170.42h0M591.5 193.82h0M496.3 166.41h0M438.9 146.82h0M529.1 177.99h0M443.9 149.12h0M483.6 169.11h0M453.3 161.38h0M497.0 175.10h0M472.3 168.71h0M456.8 170.79h0M472.1 178.60h0M444.5 151.60h0M512.1 187.83h0M545.8 181.78h0M439.9 141.97h0M448.1 143.97h0M583.7 195.79h0M504.2 165.27h0M479.8 160.10h0M555.7 189.49h0M515.3 181.99h0M578.5 188.58h0M430.8 138.60h0M449.6 155.61h0M464.8 172.41h0M477.0 159.81h0M580.9 198.28h0M494.0 174.22h0M509.8 183.79h0M476.5 159.86h0M453.7 146.24h0M416.0 110.61h0M496.9 165.84h0M428.2 128.98h0M448.3 157.13h0M509.9 187.94h0M587.2 202.64h0M573.1 189.42h0M415.0 104.61h0M446.9 160.57h0M458.8 146.51h0M569.4 184.51h0M472.9 164.93h0M556.1 192.23h0M441.5 158.52h0M513.4 185.51h0M564.3 188.94h0M464.7 153.06h0M554.4 185.50h0M436.6 141.62h0M434.6 146.05h0M492.5 180.70h0M456.3 166.85h0M443.1 146.04h0M450.3 165.91h0M498.5 170.57h0M417.8 117.97h0M470.1 155.62h0M489.7 169.10h0M463.5 169.33h0M562.5 186.43h0M460.6 170.28h0M527.4 184.54h0M496.2 176.12h0M470.1 176.10h0M587.5 193.08h0M471.2 170.81h0M476.7 175.86h0M506.1 175.26h0M475.2 165.48h0M432.4 132.38h0M422.6 132.22h0M490.0 183.34h0M425.6 119.47h0M443.0 156.96h0M437.6 147.46h0M445.6 139.33h0M503.6 181.36h0M434.3 138.25h0M419.6 108.72h0M578.0 196.41h0M448.1 152.93h0M493.0 181.35h0M428.2 140.90h0M433.3 148.52h0M506.6 168.60h0M481.6 169.20h0M544.5 188.14h0M470.4 152.53h0M525.5 185.81h0M477.5 178.53h0M489.7 161.55h0M485.2 169.44h0M469.5 164.74h0M588.2 192.71h0M462.6 174.41h0M497.3 173.66h0M577.9 187.15h0M506.5 168.15h0M487.2 159.10h0M481.4 169.62h0M532.0 183.74h0M576.7 196.59h0M434.3 138.82h0M467.0 162.62h0M485.9 177.31h0M478.2 164.49h0M464.0 172.39h0M565.9 191.27h0M517.7 173.85h0M492.0 180.53h0M496.2 175.28h0M480.3 174.65h0M461.4 173.00h0M593.7 194.48h0M426.0 119.24h0M469.7 165.51h0M441.1 142.27h0M589.9 203.35h0M458.9 147.12h0M444.5 152.82h0M509.0 173.52h0M533.4 182.64h0M487.5 182.60h0M458.3 160.19h0M503.2 162.60h0M416.7 110.71h0M585.4 193.92h0M494.5 177.67h0M448.3 165.58h0M490.2 161.45h0M469.4 165.07h0M437.8 150.34h0M480.6 178.93h0M455.6 169.82h0"/></g>
<g class="dg" transform="scale(1,1.08333)"><path d="M629.6 202.24h0M605.4 203.86h0M609.0 200.26h0M631.1 202.62h0M610.2 197.50h0M619.2 198.69h0M603.3 202.09h0M621.7 202.08h0M612.3 198.00h0M630.5 204.75h0M584.7 197.44h0M612.7 197.49h0M602.0 204.69h0M590.1 201.87h0M588.7 202.43h0M590.7 201.20h0M598.6 198.46h0M599.5 208.83h0M607.5 204.55h0M599.7 193.77h0M612.4 206.10h0M602.5 194.47h0M609.4 193.91h0M602.7 202.10h0M610.6 196.17h0M609.2 206.45h0M597.9 193.64h0M613.8 209.05h0M597.7 206.79h0M606.7 210.14h0M616.0 204.04h0M594.6 204.85h0M586.3 196.13h0M628.2 207.05h0M615.7 197.55h0M619.9 205.45h0M618.4 198.04h0M604.8 205.49h0M587.1 203.75h0M634.0 205.27h0M582.5 201.38h0M618.4 203.15h0M603.9 202.94h0M600.4 204.13h0M589.2 203.69h0M587.6 199.14h0M590.0 200.31h0M596.9 206.20h0M631.1 203.90h0M605.2 196.43h0M606.5 204.45h0M631.4 204.02h0M609.2 201.74h0M610.9 198.50h0M611.9 201.67h0M616.9 196.83h0M630.4 206.98h0M604.9 206.78h0M623.3 202.45h0M585.0 197.63h0M605.4 208.20h0M593.7 200.16h0M634.0 202.14h0M602.9 201.01h0M590.5 204.08h0M618.5 200.52h0M590.4 205.53h0M608.9 206.74h0M617.7 200.82h0M617.7 203.73h0M606.7 197.03h0M591.1 196.04h0M613.4 196.72h0M634.9 202.29h0M596.5 201.36h0M622.1 206.36h0M616.7 199.88h0M598.5 206.15h0M595.4 198.93h0M589.5 198.66h0M620.9 204.63h0M603.2 196.20h0M632.5 202.87h0M634.0 204.43h0M603.1 205.22h0M587.2 205.43h0M613.6 203.07h0M594.4 199.37h0M612.5 204.61h0M637.8 204.59h0M614.9 204.16h0M602.1 201.67h0M608.5 200.57h0M639.2 204.76h0M590.6 198.09h0M609.9 204.95h0M596.2 200.65h0M615.8 198.39h0M587.5 196.33h0M601.9 192.45h0M605.1 192.36h0M616.6 207.52h0M619.2 204.55h0M591.4 203.85h0M630.3 201.59h0M624.6 204.06h0M607.6 196.76h0M601.8 197.88h0M603.2 198.80h0M629.2 203.08h0M586.5 200.93h0M621.5 207.44h0M633.9 204.25h0M599.8 193.61h0M618.0 205.98h0M605.3 193.23h0M619.5 199.83h0M633.8 202.93h0M631.2 201.18h0M616.1 208.33h0M589.8 205.18h0M590.4 197.84h0M605.3 207.60h0M618.2 201.60h0M580.5 202.05h0M617.6 204.32h0M585.3 198.52h0M624.2 205.88h0M608.7 202.82h0M630.2 202.41h0M617.3 208.09h0M625.0 206.34h0M614.2 208.02h0M602.5 201.48h0M604.9 200.11h0M604.1 200.32h0M605.1 194.61h0M627.2 200.62h0M607.2 202.18h0M584.2 205.30h0M624.9 203.13h0M613.5 207.72h0M588.2 203.20h0M602.9 207.38h0M605.0 199.98h0M584.5 197.01h0M583.8 201.45h0M597.2 207.95h0M594.0 206.34h0M630.3 205.52h0M598.6 199.69h0M586.2 203.00h0M605.7 196.51h0M589.1 202.32h0M612.2 199.88h0M595.0 204.53h0M601.9 193.09h0M606.4 208.48h0M618.8 207.44h0M586.0 198.27h0M610.5 202.38h0M590.9 196.43h0M611.8 207.45h0M594.7 205.86h0M601.1 198.55h0M600.7 207.56h0M621.3 203.70h0M620.8 204.52h0M595.4 202.12h0M580.8 201.50h0M588.6 202.38h0M599.3 194.59h0M610.3 203.97h0M590.3 197.55h0M609.9 198.74h0M608.5 199.02h0M613.7 200.74h0M614.4 204.06h0M600.5 199.63h0M596.3 195.17h0M620.6 198.01h0M618.7 198.83h0M597.7 205.06h0M583.1 198.15h0M594.4 199.36h0M610.9 199.53h0M593.3 207.02h0M604.0 193.86h0M608.2 195.17h0M597.8 194.63h0M596.5 199.28h0M594.0 200.21h0M636.5 203.78h0M625.8 201.47h0M582.4 201.37h0M626.3 205.56h0M602.2 196.30h0M611.7 195.92h0M590.8 194.50h0M616.4 209.12h0M627.4 205.53h0M594.3 206.50h0M625.3 207.49h0M586.9 205.63h0M586.5 201.05h0M609.9 207.90h0M582.3 201.37h0M608.3 209.16h0M587.4 197.41h0M598.0 200.58h0M596.4 204.94h0M594.3 203.21h0M609.6 194.60h0M595.8 195.27h0M599.0 196.34h0M583.0 201.41h0M594.7 192.35h0M601.6 207.12h0M614.4 206.80h0M627.4 202.86h0M598.5 200.73h0M634.3 205.28h0M582.8 199.80h0M598.2 200.32h0M603.6 208.48h0M615.4 208.80h0M610.7 195.24h0M625.4 204.13h0M599.5 192.18h0M626.6 199.33h0M583.7 201.13h0M594.4 200.58h0M591.0 206.18h0M611.6 195.83h0M600.6 199.10h0M610.1 208.31h0M626.5 205.24h0M595.9 197.71h0M604.2 192.50h0M603.0 206.48h0M628.6 204.28h0M591.0 205.30h0M594.3 205.01h0M635.9 203.42h0M633.1 202.47h0M624.8 204.16h0M591.7 201.56h0M620.7 200.03h0M608.1 203.76h0M592.4 197.39h0M609.4 194.04h0M599.4 206.96h0M613.9 209.79h0M601.5 193.57h0M603.6 198.46h0M629.2 200.01h0M609.4 200.35h0M622.9 208.14h0M580.4 201.86h0M601.0 201.99h0M627.2 205.94h0M605.3 203.28h0M592.3 195.69h0M595.9 207.76h0M613.5 199.22h0M608.4 203.70h0M602.5 198.80h0M628.7 199.80h0M618.6 199.77h0M616.6 206.99h0M597.0 193.81h0M605.4 192.84h0M590.8 205.62h0M604.9 204.65h0M601.9 195.56h0M586.9 202.41h0M607.3 203.99h0M615.2 199.71h0M625.1 202.99h0M617.8 197.32h0M615.2 199.52h0M630.0 206.91h0M630.1 206.82h0M604.1 198.04h0M597.8 199.88h0M596.0 200.27h0M589.7 199.67h0M618.8 204.19h0M595.5 192.92h0M619.7 207.93h0M618.4 201.15h0M624.6 206.45h0M585.9 200.11h0M607.1 197.58h0M606.4 199.39h0M606.2 196.89h0M601.6 194.35h0M600.7 195.95h0M609.2 208.50h0M603.7 198.46h0M588.9 205.90h0M588.6 198.84h0M608.6 197.80h0M608.3 204.69h0M583.6 198.72h0M591.8 198.01h0M600.2 193.43h0M610.8 206.28h0M633.9 205.14h0M590.4 200.70h0M607.4 199.22h0M612.5 206.36h0M590.2 200.97h0M609.5 199.60h0M586.3 198.99h0M601.2 201.30h0M617.9 200.50h0M590.8 202.61h0M597.8 192.75h0M603.4 192.56h0M588.2 197.74h0M624.8 203.79h0M627.1 201.06h0M594.6 200.80h0M594.7 193.96h0M596.4 202.16h0M604.4 195.93h0M620.3 202.32h0M601.8 209.33h0M603.6 200.02h0M635.2 206.98h0M597.9 206.36h0M604.5 210.47h0M616.7 208.94h0M595.6 195.76h0M588.2 202.23h0M604.2 202.55h0M613.5 197.49h0M599.6 191.80h0M592.5 195.09h0M597.6 196.32h0M615.9 210.10h0M619.7 204.04h0M590.1 205.27h0M611.7 207.66h0M607.7 203.89h0M590.7 197.52h0M612.1 198.24h0M583.8 196.20h0M603.5 196.33h0M635.6 207.24h0M621.7 197.20h0M608.2 210.47h0M632.3 205.00h0M595.2 199.91h0M630.3 200.20h0M632.9 204.87h0M628.5 206.16h0M591.2 202.51h0M595.0 205.28h0M618.8 200.77h0M600.6 202.56h0M604.6 197.35h0M603.2 208.58h0M603.4 202.39h0M606.9 208.40h0M635.9 206.27h0M642.7 205.09h0M607.5 205.99h0M616.1 196.48h0M615.3 208.03h0M598.7 202.75h0M597.0 195.55h0M618.5 206.18h0M586.2 198.56h0M585.2 199.39h0M641.7 204.65h0M617.1 198.03h0M609.0 205.03h0M585.4 195.43h0M627.9 200.28h0M631.8 201.53h0M613.0 195.55h0M607.1 205.87h0M600.4 196.70h0M604.4 202.41h0M589.2 194.75h0M609.4 196.50h0M593.6 202.35h0M595.7 206.31h0M639.4 206.01h0M625.5 207.47h0M594.9 203.22h0M584.1 198.89h0M629.5 200.03h0M616.3 205.22h0M594.3 198.85h0M619.7 207.33h0M601.1 205.33h0M616.7 196.79h0M616.2 203.01h0M598.1 208.65h0M599.1 199.55h0M589.0 204.07h0M600.6 193.93h0M630.9 201.57h0M629.1 204.73h0M595.5 197.44h0M588.2 198.97h0M639.8 205.60h0M614.4 196.56h0M625.2 205.84h0M603.1 196.87h0M618.2 202.39h0M613.6 200.80h0M629.9 199.46h0M615.1 207.04h0M609.7 202.61h0M601.6 194.14h0M589.8 193.64h0M585.4 199.03h0M621.3 198.90h0M599.2 195.04h0M609.6 195.06h0M614.0 199.22h0M609.3 200.09h0M603.8 202.85h0M602.7 207.56h0M611.6 194.98h0M601.4 198.14h0M626.5 203.03h0M611.9 194.81h0M616.6 202.79h0M603.4 191.10h0M582.4 202.90h0M608.1 196.45h0M603.7 200.24h0M590.1 193.35h0M592.3 202.17h0M617.2 202.14h0M608.5 198.01h0M581.1 203.91h0M626.2 207.45h0M618.2 209.58h0M597.9 208.27h0M583.7 199.29h0M605.4 202.87h0M608.4 193.17h0M602.5 210.02h0M611.4 203.13h0M605.1 206.56h0M611.0 208.65h0M609.3 193.08h0M625.5 198.43h0M585.9 195.78h0M617.6 209.66h0M636.3 204.69h0M614.9 202.88h0M613.4 202.99h0M604.6 198.34h0M658.3 224.66h0M632.9 224.74h0M647.6 225.21h0M619.6 216.07h0M637.9 214.08h0M619.5 217.90h0M646.6 217.28h0M633.0 213.80h0M654.2 212.32h0M638.0 223.49h0M640.8 208.85h0M628.5 222.70h0M650.6 224.92h0M650.6 221.06h0M661.0 220.62h0M648.9 209.56h0M643.0 219.62h0M655.2 218.60h0M657.4 226.80h0M622.7 213.77h0M632.9 211.37h0M628.4 210.78h0M633.1 219.24h0M653.8 227.08h0M651.3 228.42h0M646.5 220.72h0M653.5 220.60h0M651.5 216.29h0M662.6 221.52h0M654.4 221.70h0M634.7 222.52h0M631.7 219.43h0M639.2 220.42h0M654.9 228.40h0M640.4 222.50h0M622.8 215.98h0M648.1 214.61h0M633.1 222.86h0M643.9 208.89h0M630.5 211.84h0M648.3 226.65h0M628.3 223.41h0M643.7 213.14h0M653.8 222.67h0M633.8 214.17h0M655.0 221.94h0M645.8 211.98h0M623.8 217.15h0M645.3 223.89h0M633.6 221.43h0M663.8 228.04h0M642.3 207.98h0M656.9 227.33h0M651.6 228.11h0M660.3 227.42h0M645.6 220.88h0M635.0 210.30h0M642.5 218.31h0M667.0 229.55h0M663.9 223.62h0M637.5 212.30h0M627.4 215.70h0M642.7 212.61h0M632.7 213.06h0M652.0 223.21h0M646.4 224.45h0M655.0 221.11h0M625.2 220.84h0M625.8 221.49h0M652.1 227.55h0M644.0 223.04h0M623.3 213.66h0M663.8 223.69h0M639.2 225.72h0M643.5 215.76h0M623.6 221.74h0M652.9 213.04h0M617.1 217.80h0M635.4 217.53h0M638.3 220.85h0M648.1 213.99h0M646.2 209.41h0M643.6 220.74h0M638.5 219.84h0M661.0 219.25h0M633.2 221.31h0M648.3 219.44h0M629.5 214.92h0M634.0 210.26h0M647.0 207.01h0M641.2 221.82h0M643.9 212.92h0M657.3 217.57h0M641.4 216.04h0M662.4 221.26h0M615.2 213.82h0M656.9 220.11h0M619.9 216.27h0M657.6 221.06h0M642.7 211.24h0M621.3 217.58h0M644.3 212.04h0M626.9 216.44h0M625.9 222.85h0M649.0 208.42h0M629.1 213.77h0M644.3 225.12h0M650.5 226.26h0M631.2 215.84h0M629.5 216.81h0M657.4 217.73h0M622.1 214.20h0M610.2 214.12h0M640.7 208.76h0M661.2 224.47h0M623.4 213.32h0M641.7 209.61h0M631.4 213.76h0M625.4 221.09h0M646.1 220.37h0M630.5 220.46h0M627.3 219.80h0M627.8 215.62h0M626.8 216.87h0M636.3 216.72h0M626.5 222.34h0M639.0 209.41h0M624.7 216.16h0M637.9 216.22h0M645.3 222.95h0M645.4 219.02h0M660.0 220.75h0M626.9 210.79h0M620.5 218.25h0M638.8 221.70h0M653.0 212.03h0M643.0 225.36h0M654.5 226.53h0M622.4 216.59h0M663.9 223.44h0M666.1 228.67h0M648.7 215.54h0M633.0 210.78h0M635.2 210.47h0M656.3 214.56h0M649.7 219.39h0M648.1 212.39h0M647.5 226.93h0M632.4 213.24h0M638.1 210.96h0M649.2 210.90h0M633.8 223.12h0M655.0 215.03h0M646.7 215.91h0M660.4 221.31h0M648.9 226.97h0M650.2 223.76h0M638.3 222.60h0M642.9 209.97h0M634.8 218.37h0M633.3 212.39h0M625.0 220.46h0M628.6 216.33h0M629.8 221.69h0M641.1 225.96h0M578.0 200.86h0M581.6 205.66h0M580.5 198.00h0M610.2 215.08h0M613.2 217.29h0M616.2 221.17h0M622.8 222.28h0M625.7 225.05h0M631.4 226.71h0M631.7 231.14h0M639.3 233.35h0M642.5 230.58h0M644.9 235.02h0M646.1 237.23h0M649.1 234.46h0M651.5 233.35h0M652.7 238.25h0M652.1 244.89h0M653.3 230.03h0M656.3 230.58h0M658.7 231.14h0M660.5 238.25h0M664.1 238.62h0M665.3 232.80h0M667.1 234.46h0M668.3 236.03h0M667.1 228.37h0M640.7 216.74h0M637.1 220.06h0"/></g>
<rect x="37.30" y="5.00" width="298.30" height="289.00" fill="none" stroke="#000" stroke-width="1.4"/>
<path d="M39.38 294.00v-2.20M42.30 294.00v-2.20M45.23 294.00v-2.20M48.16 294.00v-2.20M51.09 294.00v-2.20M54.02 294.00v-2.20M56.94 294.00v-2.20M59.87 294.00v-2.20M62.80 294.00v-4.20M65.73 294.00v-2.20M68.66 294.00v-2.20M71.58 294.00v-2.20M74.51 294.00v-2.20M77.44 294.00v-2.20M80.37 294.00v-2.20M83.30 294.00v-2.20M86.22 294.00v-2.20M89.15 294.00v-2.20M92.08 294.00v-4.20M95.01 294.00v-2.20M97.94 294.00v-2.20M100.86 294.00v-2.20M103.79 294.00v-2.20M106.72 294.00v-2.20M109.65 294.00v-2.20M112.58 294.00v-2.20M115.50 294.00v-2.20M118.43 294.00v-2.20M121.36 294.00v-4.20M124.29 294.00v-2.20M127.22 294.00v-2.20M130.14 294.00v-2.20M133.07 294.00v-2.20M136.00 294.00v-2.20M138.93 294.00v-2.20M141.86 294.00v-2.20M144.78 294.00v-2.20M147.71 294.00v-2.20M150.64 294.00v-4.20M153.57 294.00v-2.20M156.50 294.00v-2.20M159.42 294.00v-2.20M162.35 294.00v-2.20M165.28 294.00v-2.20M168.21 294.00v-2.20M171.14 294.00v-2.20M174.06 294.00v-2.20M176.99 294.00v-2.20M179.92 294.00v-4.20M182.85 294.00v-2.20M185.78 294.00v-2.20M188.70 294.00v-2.20M191.63 294.00v-2.20M194.56 294.00v-2.20M197.49 294.00v-2.20M200.42 294.00v-2.20M203.34 294.00v-2.20M206.27 294.00v-2.20M209.20 294.00v-4.20M212.13 294.00v-2.20M215.06 294.00v-2.20M217.98 294.00v-2.20M220.91 294.00v-2.20M223.84 294.00v-2.20M226.77 294.00v-2.20M229.70 294.00v-2.20M232.62 294.00v-2.20M235.55 294.00v-2.20M238.48 294.00v-4.20M241.41 294.00v-2.20M244.34 294.00v-2.20M247.26 294.00v-2.20M250.19 294.00v-2.20M253.12 294.00v-2.20M256.05 294.00v-2.20M258.98 294.00v-2.20M261.90 294.00v-2.20M264.83 294.00v-2.20M267.76 294.00v-4.20M270.69 294.00v-2.20M273.62 294.00v-2.20M276.54 294.00v-2.20M279.47 294.00v-2.20M282.40 294.00v-2.20M285.33 294.00v-2.20M288.26 294.00v-2.20M291.18 294.00v-2.20M294.11 294.00v-2.20M297.04 294.00v-4.20M299.97 294.00v-2.20M302.90 294.00v-2.20M305.82 294.00v-2.20M308.75 294.00v-2.20M311.68 294.00v-2.20M314.61 294.00v-2.20M317.54 294.00v-2.20M320.46 294.00v-2.20M323.39 294.00v-2.20M326.32 294.00v-4.20M329.25 294.00v-2.20M332.18 294.00v-2.20M37.30 290.81h1.70M37.30 287.45h1.70M37.30 284.09h1.70M37.30 280.73h1.70M37.30 277.36h1.70M37.30 274.00h2.90M37.30 270.64h1.70M37.30 267.27h1.70M37.30 263.91h1.70M37.30 260.55h1.70M37.30 257.19h1.70M37.30 253.82h1.70M37.30 250.46h1.70M37.30 247.10h1.70M37.30 243.74h1.70M37.30 240.38h2.90M37.30 237.01h1.70M37.30 233.65h1.70M37.30 230.29h1.70M37.30 226.93h1.70M37.30 223.56h1.70M37.30 220.20h1.70M37.30 216.84h1.70M37.30 213.47h1.70M37.30 210.11h1.70M37.30 206.75h2.90M37.30 203.39h1.70M37.30 200.02h1.70M37.30 196.66h1.70M37.30 193.30h1.70M37.30 189.94h1.70M37.30 186.57h1.70M37.30 183.21h1.70M37.30 179.85h1.70M37.30 176.49h1.70M37.30 173.12h2.90M37.30 169.76h1.70M37.30 166.40h1.70M37.30 163.04h1.70M37.30 159.67h1.70M37.30 156.31h1.70M37.30 152.95h1.70M37.30 149.59h1.70M37.30 146.22h1.70M37.30 142.86h1.70M37.30 139.50h2.90M37.30 136.14h1.70M37.30 132.78h1.70M37.30 129.41h1.70M37.30 126.05h1.70M37.30 122.69h1.70M37.30 119.32h1.70M37.30 115.96h1.70M37.30 112.60h1.70M37.30 109.24h1.70M37.30 105.88h2.90M37.30 102.51h1.70M37.30 99.15h1.70M37.30 95.79h1.70M37.30 92.42h1.70M37.30 89.06h1.70M37.30 85.70h1.70M37.30 82.34h1.70M37.30 78.97h1.70M37.30 75.61h1.70M37.30 72.25h2.90M37.30 68.89h1.70M37.30 65.53h1.70M37.30 62.16h1.70M37.30 58.80h1.70M37.30 55.44h1.70M37.30 52.07h1.70M37.30 48.71h1.70M37.30 45.35h1.70M37.30 41.99h1.70M37.30 38.62h2.90M37.30 35.26h1.70M37.30 31.90h1.70M37.30 28.54h1.70M37.30 25.17h1.70M37.30 21.81h1.70M37.30 18.45h1.70M37.30 15.09h1.70M37.30 11.72h1.70M37.30 8.36h1.70" stroke="#000" stroke-width="0.9" fill="none"/>
<g class="tk">
<text transform="translate(63.50,307.8) scale(1,1.15)" text-anchor="middle">200</text>
<text transform="translate(92.78,307.8) scale(1,1.15)" text-anchor="middle">400</text>
<text transform="translate(122.06,307.8) scale(1,1.15)" text-anchor="middle">600</text>
<text transform="translate(151.34,307.8) scale(1,1.15)" text-anchor="middle">800</text>
<text transform="translate(180.62,307.8) scale(1,1.15)" text-anchor="middle">1000</text>
<text transform="translate(209.90,307.8) scale(1,1.15)" text-anchor="middle">1200</text>
<text transform="translate(239.18,307.8) scale(1,1.15)" text-anchor="middle">1400</text>
<text transform="translate(268.46,307.8) scale(1,1.15)" text-anchor="middle">1600</text>
<text transform="translate(297.74,307.8) scale(1,1.15)" text-anchor="middle">1800</text>
<text transform="translate(327.02,307.8) scale(1,1.15)" text-anchor="middle">2000</text>
<text transform="translate(34.30,280.10) scale(1,1.42)" text-anchor="end">0.0</text>
<text transform="translate(34.30,246.47) scale(1,1.42)" text-anchor="end">0.5</text>
<text transform="translate(34.30,212.85) scale(1,1.42)" text-anchor="end">1.0</text>
<text transform="translate(34.30,179.22) scale(1,1.42)" text-anchor="end">1.5</text>
<text transform="translate(34.30,145.60) scale(1,1.42)" text-anchor="end">2.0</text>
<text transform="translate(34.30,111.97) scale(1,1.42)" text-anchor="end">2.5</text>
<text transform="translate(34.30,78.35) scale(1,1.42)" text-anchor="end">3.0</text>
<text transform="translate(34.30,44.73) scale(1,1.42)" text-anchor="end">3.5</text>
<text transform="translate(34.30,11.10) scale(1,1.42)" text-anchor="end">4.0</text>
</g>
<rect x="383.50" y="5.00" width="298.30" height="289.00" fill="none" stroke="#000" stroke-width="1.4"/>
<path d="M385.14 294.00v-2.20M388.06 294.00v-2.20M390.97 294.00v-2.20M393.89 294.00v-2.20M396.81 294.00v-2.20M399.73 294.00v-2.20M402.65 294.00v-2.20M405.56 294.00v-2.20M408.48 294.00v-2.20M411.40 294.00v-4.20M414.32 294.00v-2.20M417.24 294.00v-2.20M420.15 294.00v-2.20M423.07 294.00v-2.20M425.99 294.00v-2.20M428.91 294.00v-2.20M431.83 294.00v-2.20M434.74 294.00v-2.20M437.66 294.00v-2.20M440.58 294.00v-4.20M443.50 294.00v-2.20M446.42 294.00v-2.20M449.33 294.00v-2.20M452.25 294.00v-2.20M455.17 294.00v-2.20M458.09 294.00v-2.20M461.01 294.00v-2.20M463.92 294.00v-2.20M466.84 294.00v-2.20M469.76 294.00v-4.20M472.68 294.00v-2.20M475.60 294.00v-2.20M478.51 294.00v-2.20M481.43 294.00v-2.20M484.35 294.00v-2.20M487.27 294.00v-2.20M490.19 294.00v-2.20M493.10 294.00v-2.20M496.02 294.00v-2.20M498.94 294.00v-4.20M501.86 294.00v-2.20M504.78 294.00v-2.20M507.69 294.00v-2.20M510.61 294.00v-2.20M513.53 294.00v-2.20M516.45 294.00v-2.20M519.37 294.00v-2.20M522.28 294.00v-2.20M525.20 294.00v-2.20M528.12 294.00v-4.20M531.04 294.00v-2.20M533.96 294.00v-2.20M536.87 294.00v-2.20M539.79 294.00v-2.20M542.71 294.00v-2.20M545.63 294.00v-2.20M548.55 294.00v-2.20M551.46 294.00v-2.20M554.38 294.00v-2.20M557.30 294.00v-4.20M560.22 294.00v-2.20M563.14 294.00v-2.20M566.05 294.00v-2.20M568.97 294.00v-2.20M571.89 294.00v-2.20M574.81 294.00v-2.20M577.73 294.00v-2.20M580.64 294.00v-2.20M583.56 294.00v-2.20M586.48 294.00v-4.20M589.40 294.00v-2.20M592.32 294.00v-2.20M595.23 294.00v-2.20M598.15 294.00v-2.20M601.07 294.00v-2.20M603.99 294.00v-2.20M606.91 294.00v-2.20M609.82 294.00v-2.20M612.74 294.00v-2.20M615.66 294.00v-4.20M618.58 294.00v-2.20M621.50 294.00v-2.20M624.41 294.00v-2.20M627.33 294.00v-2.20M630.25 294.00v-2.20M633.17 294.00v-2.20M636.09 294.00v-2.20M639.00 294.00v-2.20M641.92 294.00v-2.20M644.84 294.00v-4.20M647.76 294.00v-2.20M650.68 294.00v-2.20M653.59 294.00v-2.20M656.51 294.00v-2.20M659.43 294.00v-2.20M662.35 294.00v-2.20M665.27 294.00v-2.20M668.18 294.00v-2.20M671.10 294.00v-2.20M674.02 294.00v-4.20M676.94 294.00v-2.20M679.86 294.00v-2.20M383.50 290.81h1.70M383.50 287.45h1.70M383.50 284.09h1.70M383.50 280.73h1.70M383.50 277.36h1.70M383.50 274.00h2.90M383.50 270.64h1.70M383.50 267.27h1.70M383.50 263.91h1.70M383.50 260.55h1.70M383.50 257.19h1.70M383.50 253.82h1.70M383.50 250.46h1.70M383.50 247.10h1.70M383.50 243.74h1.70M383.50 240.38h2.90M383.50 237.01h1.70M383.50 233.65h1.70M383.50 230.29h1.70M383.50 226.93h1.70M383.50 223.56h1.70M383.50 220.20h1.70M383.50 216.84h1.70M383.50 213.47h1.70M383.50 210.11h1.70M383.50 206.75h2.90M383.50 203.39h1.70M383.50 200.02h1.70M383.50 196.66h1.70M383.50 193.30h1.70M383.50 189.94h1.70M383.50 186.57h1.70M383.50 183.21h1.70M383.50 179.85h1.70M383.50 176.49h1.70M383.50 173.12h2.90M383.50 169.76h1.70M383.50 166.40h1.70M383.50 163.04h1.70M383.50 159.67h1.70M383.50 156.31h1.70M383.50 152.95h1.70M383.50 149.59h1.70M383.50 146.22h1.70M383.50 142.86h1.70M383.50 139.50h2.90M383.50 136.14h1.70M383.50 132.78h1.70M383.50 129.41h1.70M383.50 126.05h1.70M383.50 122.69h1.70M383.50 119.32h1.70M383.50 115.96h1.70M383.50 112.60h1.70M383.50 109.24h1.70M383.50 105.88h2.90M383.50 102.51h1.70M383.50 99.15h1.70M383.50 95.79h1.70M383.50 92.42h1.70M383.50 89.06h1.70M383.50 85.70h1.70M383.50 82.34h1.70M383.50 78.97h1.70M383.50 75.61h1.70M383.50 72.25h2.90M383.50 68.89h1.70M383.50 65.53h1.70M383.50 62.16h1.70M383.50 58.80h1.70M383.50 55.44h1.70M383.50 52.07h1.70M383.50 48.71h1.70M383.50 45.35h1.70M383.50 41.99h1.70M383.50 38.62h2.90M383.50 35.26h1.70M383.50 31.90h1.70M383.50 28.54h1.70M383.50 25.17h1.70M383.50 21.81h1.70M383.50 18.45h1.70M383.50 15.09h1.70M383.50 11.72h1.70M383.50 8.36h1.70" stroke="#000" stroke-width="0.9" fill="none"/>
<g class="tk">
<text transform="translate(412.10,307.8) scale(1,1.15)" text-anchor="middle">200</text>
<text transform="translate(441.28,307.8) scale(1,1.15)" text-anchor="middle">400</text>
<text transform="translate(470.46,307.8) scale(1,1.15)" text-anchor="middle">600</text>
<text transform="translate(499.64,307.8) scale(1,1.15)" text-anchor="middle">800</text>
<text transform="translate(528.82,307.8) scale(1,1.15)" text-anchor="middle">1000</text>
<text transform="translate(558.00,307.8) scale(1,1.15)" text-anchor="middle">1200</text>
<text transform="translate(587.18,307.8) scale(1,1.15)" text-anchor="middle">1400</text>
<text transform="translate(616.36,307.8) scale(1,1.15)" text-anchor="middle">1600</text>
<text transform="translate(645.54,307.8) scale(1,1.15)" text-anchor="middle">1800</text>
<text transform="translate(674.72,307.8) scale(1,1.15)" text-anchor="middle">2000</text>
<text transform="translate(380.50,280.10) scale(1,1.42)" text-anchor="end">0.0</text>
<text transform="translate(380.50,246.47) scale(1,1.42)" text-anchor="end">0.5</text>
<text transform="translate(380.50,212.85) scale(1,1.42)" text-anchor="end">1.0</text>
<text transform="translate(380.50,179.22) scale(1,1.42)" text-anchor="end">1.5</text>
<text transform="translate(380.50,145.60) scale(1,1.42)" text-anchor="end">2.0</text>
<text transform="translate(380.50,111.97) scale(1,1.42)" text-anchor="end">2.5</text>
<text transform="translate(380.50,78.35) scale(1,1.42)" text-anchor="end">3.0</text>
<text transform="translate(380.50,44.73) scale(1,1.42)" text-anchor="end">3.5</text>
<text transform="translate(380.50,11.10) scale(1,1.42)" text-anchor="end">4.0</text>
</g>
<text transform="translate(156.87,326.75) scale(1,0.8462)" font-size="17.73" font-family="'Liberation Serif',serif" font-style="italic">m</text>
<text transform="translate(169.28,324.83) scale(1,1.3333)" font-size="6.25" font-family="'Liberation Serif',serif" stroke="#000" stroke-width="0.30">∼</text>
<text transform="translate(169.47,331.57) scale(1,1.1729)" font-size="10.77" font-family="'Liberation Serif',serif" font-style="italic" stroke="#000" stroke-width="0.30">t</text>
<text transform="translate(173.44,333.92) scale(1,1.1200)" font-size="7.17" font-family="'Liberation Serif',serif" font-style="italic" stroke="#000" stroke-width="0.40">L</text>
<text transform="translate(182.73,327.49) scale(1,1.5894)" font-size="11.11" font-family="'Liberation Sans',sans-serif" stroke="#000" stroke-width="0.25">(</text>
<text transform="translate(187.60,326.27) scale(1,1.1103)" font-size="11.92" font-family="'Liberation Sans',sans-serif" stroke="#000" stroke-width="0.35">GeV</text>
<text transform="translate(211.90,327.49) scale(1,1.7660)" font-size="10.00" font-family="'Liberation Sans',sans-serif" stroke="#000" stroke-width="0.25">)</text>
<text transform="translate(502.87,326.75) scale(1,0.8462)" font-size="17.73" font-family="'Liberation Serif',serif" font-style="italic">m</text>
<text transform="translate(515.27,324.83) scale(1,1.3333)" font-size="6.25" font-family="'Liberation Serif',serif" stroke="#000" stroke-width="0.30">∼</text>
<text transform="translate(515.47,331.57) scale(1,1.1729)" font-size="10.77" font-family="'Liberation Serif',serif" font-style="italic" stroke="#000" stroke-width="0.30">t</text>
<text transform="translate(519.38,333.92) scale(1,1.0649)" font-size="7.54" font-family="'Liberation Serif',serif" font-style="italic" stroke="#000" stroke-width="0.40">R</text>
<text transform="translate(528.73,327.49) scale(1,1.5894)" font-size="11.11" font-family="'Liberation Sans',sans-serif" stroke="#000" stroke-width="0.25">(</text>
<text transform="translate(533.60,326.27) scale(1,1.1103)" font-size="11.92" font-family="'Liberation Sans',sans-serif" stroke="#000" stroke-width="0.35">GeV</text>
<text transform="translate(557.90,327.49) scale(1,1.7660)" font-size="10.00" font-family="'Liberation Sans',sans-serif" stroke="#000" stroke-width="0.25">)</text>
<text transform="translate(10.55,101.80) rotate(-90) scale(1,1.0922)" font-size="12.86" font-family="'Liberation Sans',sans-serif" stroke="#000" stroke-width="0.25">)</text>
<text transform="translate(11.00,127.38) rotate(-90) scale(1,0.8598)" font-size="14.65" font-family="'Liberation Sans',sans-serif" stroke="#000" stroke-width="0.35">mm</text>
<text transform="translate(10.55,133.46) rotate(-90) scale(1,1.1151)" font-size="12.59" font-family="'Liberation Sans',sans-serif" stroke="#000" stroke-width="0.25">(</text>
<text transform="translate(16.25,145.68) rotate(-90) scale(1,0.4367)" font-size="10.75" font-family="'Liberation Serif',serif" font-style="italic" stroke="#000" stroke-width="0.40">L</text>
<text transform="translate(14.62,151.21) rotate(-90) scale(1,0.4363)" font-size="17.69" font-family="'Liberation Serif',serif" font-style="italic" stroke="#000" stroke-width="0.35">t</text>
<text transform="translate(8.80,150.54) rotate(-90) scale(1,1.1852)" font-size="8.44" font-family="'Liberation Serif',serif" stroke="#000" stroke-width="0.30">∼</text>
<text transform="translate(10.36,156.52) rotate(-90) scale(1,0.8806)" font-size="15.95" font-family="'Liberation Serif',serif" font-style="italic">τ</text>
<text transform="translate(10.66,164.74) rotate(-90) scale(1,0.9396)" font-size="14.63" font-family="'Liberation Serif',serif" font-style="italic">c</text>
<text transform="translate(13.60,182.54) rotate(-90) scale(1,0.8601)" font-size="11.80" font-family="'Liberation Serif',serif">10</text>
<text transform="translate(10.56,201.79) rotate(-90) scale(1,0.9546)" font-size="14.67" font-family="'Liberation Serif',serif">log</text>
<text transform="translate(356.75,101.80) rotate(-90) scale(1,1.0922)" font-size="12.86" font-family="'Liberation Sans',sans-serif" stroke="#000" stroke-width="0.25">)</text>
<text transform="translate(357.20,127.38) rotate(-90) scale(1,0.8598)" font-size="14.65" font-family="'Liberation Sans',sans-serif" stroke="#000" stroke-width="0.35">mm</text>
<text transform="translate(356.75,133.46) rotate(-90) scale(1,1.1151)" font-size="12.59" font-family="'Liberation Sans',sans-serif" stroke="#000" stroke-width="0.25">(</text>
<text transform="translate(362.45,145.80) rotate(-90) scale(1,0.4477)" font-size="10.49" font-family="'Liberation Serif',serif" font-style="italic" stroke="#000" stroke-width="0.40">R</text>
<text transform="translate(360.82,151.21) rotate(-90) scale(1,0.4363)" font-size="17.69" font-family="'Liberation Serif',serif" font-style="italic" stroke="#000" stroke-width="0.35">t</text>
<text transform="translate(355.00,150.54) rotate(-90) scale(1,1.1852)" font-size="8.44" font-family="'Liberation Serif',serif" stroke="#000" stroke-width="0.30">∼</text>
<text transform="translate(356.56,156.52) rotate(-90) scale(1,0.8806)" font-size="15.95" font-family="'Liberation Serif',serif" font-style="italic">τ</text>
<text transform="translate(356.86,164.74) rotate(-90) scale(1,0.9396)" font-size="14.63" font-family="'Liberation Serif',serif" font-style="italic">c</text>
<text transform="translate(359.80,182.54) rotate(-90) scale(1,0.8601)" font-size="11.80" font-family="'Liberation Serif',serif">10</text>
<text transform="translate(356.76,201.79) rotate(-90) scale(1,0.9546)" font-size="14.67" font-family="'Liberation Serif',serif">log</text>
</svg>
</body></html>
